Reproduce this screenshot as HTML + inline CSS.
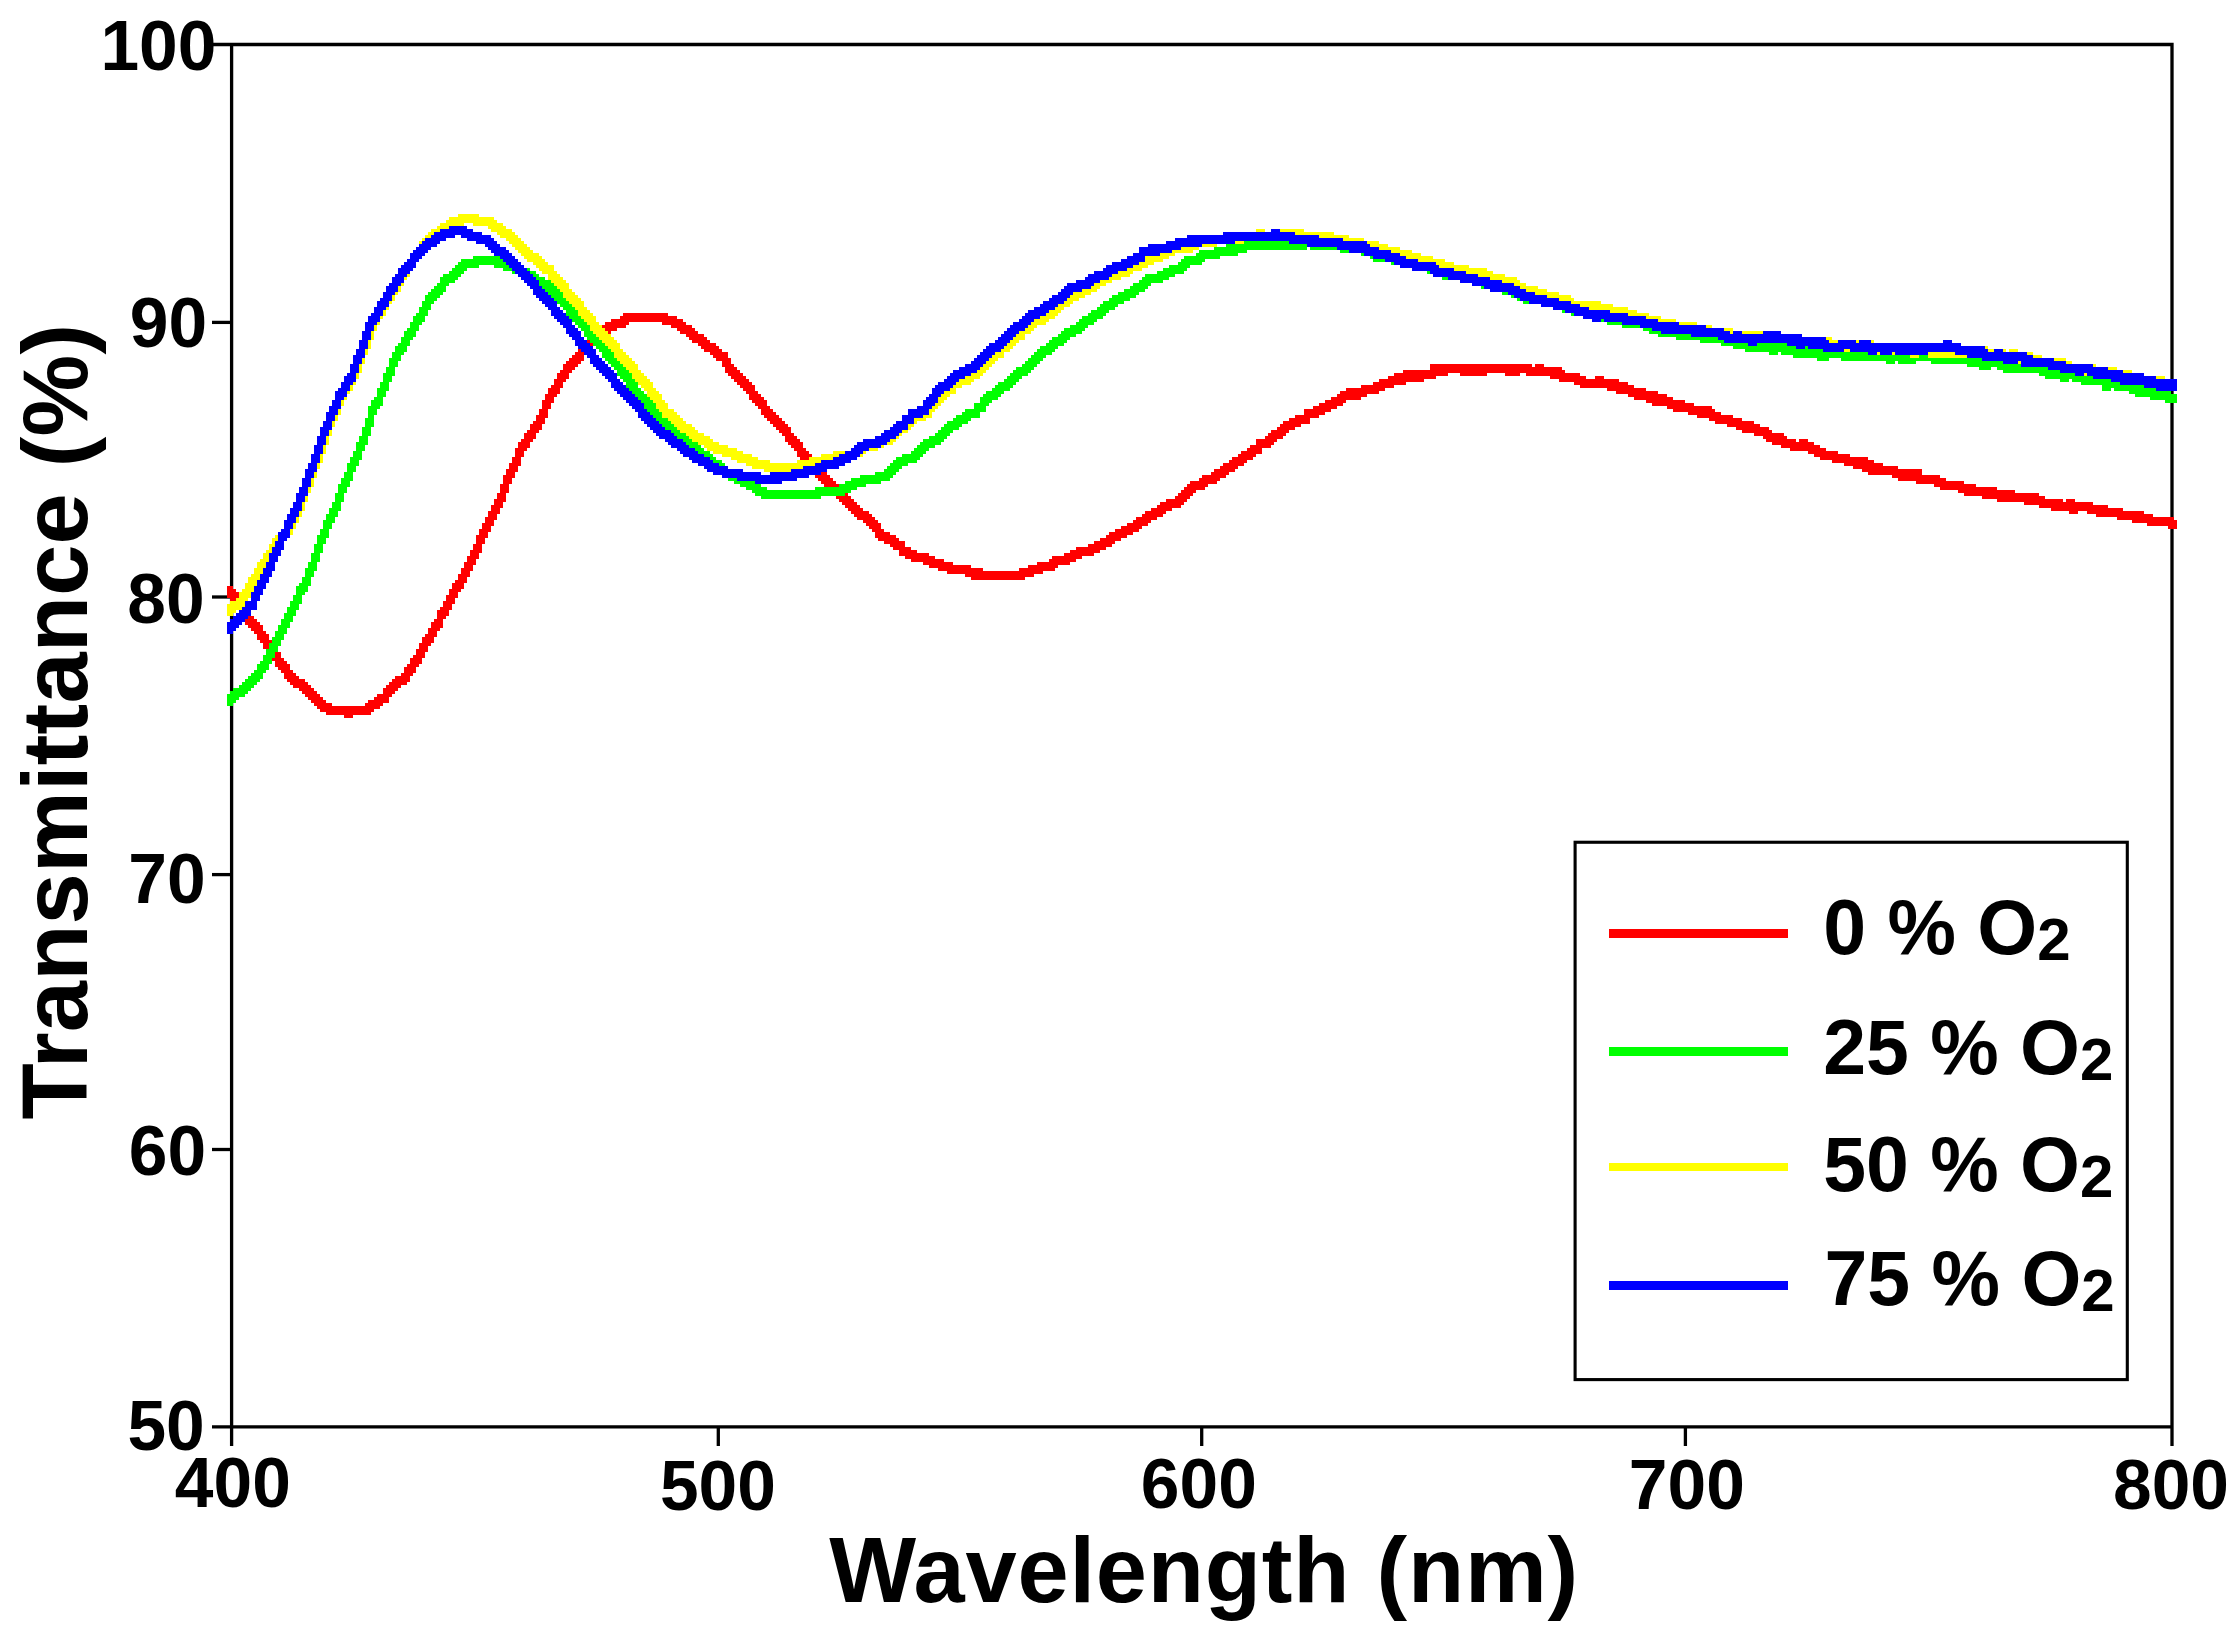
<!DOCTYPE html><html><head><meta charset="utf-8"><title>Transmittance</title>
<style>html,body{margin:0;padding:0;background:#fff}svg{display:block}text{font-family:"Liberation Sans",sans-serif;font-weight:bold;fill:#000}</style></head><body>
<svg width="2238" height="1630" viewBox="0 0 2238 1630">
<rect width="2238" height="1630" fill="#fff"/>
<g stroke="#000" stroke-width="3.3" fill="none">
<path d="M231.6 42.85V1446 M2172 42.85V1446 M212 44.5H2173.65 M212 1426.9H2172"/>
<path d="M212 322.4H231.6"/>
<path d="M212 597H231.6"/>
<path d="M212 874.6H231.6"/>
<path d="M212 1149.5H231.6"/>
<path d="M718.3 1426.9V1446"/>
<path d="M1201.7 1426.9V1446"/>
<path d="M1685.4 1426.9V1446"/>
</g>
<g shape-rendering="crispEdges" stroke="none">
<path fill="#ff0000" d="M227 586.2h3v12h-3zM230 586.2h3v15h-3zM233 589.2h3v15h-3zM236 592.2h3v15h-3zM239 595.2h3v18h-3zM242 598.2h3v21h-3zM245 604.2h3v21h-3zM248 610.2h3v18h-3zM251 616.2h3v15h-3zM254 619.2h3v15h-3zM257 622.2h3v18h-3zM260 625.2h3v18h-3zM263 631.2h3v18h-3zM266 634.2h3v18h-3zM269 640.2h3v18h-3zM272 643.2h3v18h-3zM275 649.2h3v18h-3zM278 652.2h3v18h-3zM281 658.2h3v15h-3zM284 661.2h3v18h-3zM287 664.2h3v18h-3zM290 670.2h3v15h-3zM293 673.2h3v15h-3zM296 676.2h3v12h-3zM299 679.2h3v12h-3zM302 679.2h3v15h-3zM305 682.2h3v15h-3zM308 685.2h3v15h-3zM311 688.2h3v15h-3zM314 691.2h3v15h-3zM317 694.2h3v15h-3zM320 697.2h3v15h-3zM323 700.2h3v12h-3zM326 703.2h3v12h-3zM329 703.2h3v12h-3zM332 706.2h3v9h-3zM335 706.2h3v9h-3zM338 706.2h3v9h-3zM341 706.2h3v9h-3zM344 706.2h3v12h-3zM347 706.2h3v12h-3zM350 706.2h3v12h-3zM353 706.2h3v9h-3zM356 706.2h3v9h-3zM359 706.2h3v9h-3zM362 706.2h3v9h-3zM365 703.2h3v12h-3zM368 700.2h3v15h-3zM371 700.2h3v12h-3zM374 697.2h3v12h-3zM377 694.2h3v15h-3zM380 694.2h3v12h-3zM383 688.2h3v15h-3zM386 685.2h3v18h-3zM389 682.2h3v15h-3zM392 679.2h3v15h-3zM395 676.2h3v15h-3zM398 676.2h3v12h-3zM401 673.2h3v12h-3zM404 667.2h3v18h-3zM407 664.2h3v18h-3zM410 658.2h3v18h-3zM413 655.2h3v18h-3zM416 649.2h3v18h-3zM419 643.2h3v21h-3zM422 637.2h3v21h-3zM425 634.2h3v18h-3zM428 628.2h3v18h-3zM431 622.2h3v21h-3zM434 619.2h3v18h-3zM437 610.2h3v21h-3zM440 607.2h3v21h-3zM443 601.2h3v18h-3zM446 595.2h3v21h-3zM449 589.2h3v21h-3zM452 583.2h3v21h-3zM455 580.2h3v18h-3zM458 574.2h3v18h-3zM461 568.2h3v21h-3zM464 562.2h3v21h-3zM467 556.2h3v21h-3zM470 550.2h3v21h-3zM473 544.2h3v21h-3zM476 535.2h3v24h-3zM479 529.2h3v24h-3zM482 523.2h3v21h-3zM485 517.2h3v21h-3zM488 511.2h3v21h-3zM491 505.2h3v21h-3zM494 499.2h3v21h-3zM497 493.2h3v21h-3zM500 484.2h3v24h-3zM503 475.2h3v27h-3zM506 469.2h3v24h-3zM509 463.2h3v21h-3zM512 457.2h3v21h-3zM515 448.2h3v24h-3zM518 442.2h3v24h-3zM521 439.2h3v18h-3zM524 433.2h3v18h-3zM527 430.2h3v18h-3zM530 424.2h3v18h-3zM533 421.2h3v18h-3zM536 415.2h3v18h-3zM539 409.2h3v21h-3zM542 400.2h3v24h-3zM545 394.2h3v24h-3zM548 388.2h3v21h-3zM551 385.2h3v18h-3zM554 379.2h3v18h-3zM557 373.2h3v21h-3zM560 370.2h3v18h-3zM563 364.2h3v18h-3zM566 361.2h3v18h-3zM569 358.2h3v15h-3zM572 355.2h3v15h-3zM575 352.2h3v15h-3zM578 346.2h3v18h-3zM581 343.2h3v18h-3zM584 340.2h3v15h-3zM587 337.2h3v15h-3zM590 337.2h3v12h-3zM593 334.2h3v12h-3zM596 331.2h3v15h-3zM599 328.2h3v15h-3zM602 325.2h3v15h-3zM605 322.2h3v15h-3zM608 322.2h3v12h-3zM611 319.2h3v12h-3zM614 319.2h3v12h-3zM617 319.2h3v9h-3zM620 316.2h3v12h-3zM623 313.2h3v15h-3zM626 313.2h3v12h-3zM629 313.2h3v9h-3zM632 313.2h3v9h-3zM635 313.2h3v9h-3zM638 313.2h3v9h-3zM641 313.2h3v9h-3zM644 313.2h3v9h-3zM647 313.2h3v9h-3zM650 313.2h3v9h-3zM653 313.2h3v9h-3zM656 313.2h3v9h-3zM659 313.2h3v9h-3zM662 313.2h3v12h-3zM665 313.2h3v12h-3zM668 316.2h3v9h-3zM671 316.2h3v12h-3zM674 316.2h3v12h-3zM677 319.2h3v12h-3zM680 319.2h3v15h-3zM683 322.2h3v12h-3zM686 325.2h3v12h-3zM689 325.2h3v15h-3zM692 328.2h3v15h-3zM695 331.2h3v12h-3zM698 334.2h3v12h-3zM701 334.2h3v15h-3zM704 337.2h3v15h-3zM707 340.2h3v12h-3zM710 343.2h3v12h-3zM713 343.2h3v15h-3zM716 346.2h3v15h-3zM719 349.2h3v12h-3zM722 352.2h3v15h-3zM725 352.2h3v21h-3zM728 358.2h3v18h-3zM731 364.2h3v15h-3zM734 367.2h3v15h-3zM737 370.2h3v15h-3zM740 373.2h3v15h-3zM743 376.2h3v15h-3zM746 379.2h3v15h-3zM749 382.2h3v18h-3zM752 385.2h3v18h-3zM755 391.2h3v15h-3zM758 394.2h3v15h-3zM761 397.2h3v18h-3zM764 400.2h3v18h-3zM767 406.2h3v15h-3zM770 409.2h3v15h-3zM773 412.2h3v15h-3zM776 415.2h3v15h-3zM779 418.2h3v15h-3zM782 421.2h3v15h-3zM785 424.2h3v18h-3zM788 427.2h3v18h-3zM791 433.2h3v15h-3zM794 436.2h3v15h-3zM797 439.2h3v18h-3zM800 442.2h3v18h-3zM803 448.2h3v15h-3zM806 451.2h3v15h-3zM809 454.2h3v18h-3zM812 457.2h3v15h-3zM815 463.2h3v15h-3zM818 463.2h3v18h-3zM821 469.2h3v15h-3zM824 472.2h3v15h-3zM827 475.2h3v15h-3zM830 478.2h3v15h-3zM833 481.2h3v15h-3zM836 484.2h3v15h-3zM839 487.2h3v15h-3zM842 490.2h3v15h-3zM845 493.2h3v15h-3zM848 496.2h3v15h-3zM851 499.2h3v15h-3zM854 502.2h3v15h-3zM857 505.2h3v15h-3zM860 508.2h3v12h-3zM863 511.2h3v12h-3zM866 511.2h3v15h-3zM869 514.2h3v15h-3zM872 517.2h3v15h-3zM875 520.2h3v18h-3zM878 523.2h3v18h-3zM881 529.2h3v12h-3zM884 532.2h3v12h-3zM887 532.2h3v12h-3zM890 535.2h3v12h-3zM893 535.2h3v15h-3zM896 538.2h3v12h-3zM899 541.2h3v15h-3zM902 541.2h3v15h-3zM905 547.2h3v12h-3zM908 547.2h3v12h-3zM911 550.2h3v12h-3zM914 550.2h3v12h-3zM917 553.2h3v9h-3zM920 553.2h3v9h-3zM923 553.2h3v12h-3zM926 553.2h3v12h-3zM929 556.2h3v12h-3zM932 556.2h3v12h-3zM935 559.2h3v9h-3zM938 559.2h3v12h-3zM941 559.2h3v12h-3zM944 562.2h3v9h-3zM947 562.2h3v12h-3zM950 562.2h3v12h-3zM953 565.2h3v9h-3zM956 565.2h3v9h-3zM959 565.2h3v9h-3zM962 565.2h3v9h-3zM965 565.2h3v12h-3zM968 565.2h3v12h-3zM971 568.2h3v12h-3zM974 568.2h3v12h-3zM977 568.2h3v12h-3zM980 568.2h3v12h-3zM983 571.2h3v9h-3zM986 571.2h3v9h-3zM989 571.2h3v9h-3zM992 571.2h3v9h-3zM995 571.2h3v9h-3zM998 571.2h3v9h-3zM1001 571.2h3v9h-3zM1004 571.2h3v9h-3zM1007 571.2h3v9h-3zM1010 571.2h3v9h-3zM1013 571.2h3v9h-3zM1016 571.2h3v9h-3zM1019 568.2h3v12h-3zM1022 568.2h3v12h-3zM1025 568.2h3v9h-3zM1028 565.2h3v12h-3zM1031 565.2h3v12h-3zM1034 565.2h3v9h-3zM1037 562.2h3v12h-3zM1040 562.2h3v12h-3zM1043 562.2h3v9h-3zM1046 562.2h3v9h-3zM1049 559.2h3v12h-3zM1052 556.2h3v15h-3zM1055 556.2h3v12h-3zM1058 556.2h3v9h-3zM1061 556.2h3v9h-3zM1064 553.2h3v12h-3zM1067 553.2h3v12h-3zM1070 550.2h3v12h-3zM1073 550.2h3v12h-3zM1076 547.2h3v12h-3zM1079 547.2h3v12h-3zM1082 547.2h3v9h-3zM1085 547.2h3v9h-3zM1088 544.2h3v12h-3zM1091 544.2h3v12h-3zM1094 541.2h3v12h-3zM1097 541.2h3v12h-3zM1100 538.2h3v12h-3zM1103 538.2h3v12h-3zM1106 535.2h3v12h-3zM1109 532.2h3v15h-3zM1112 532.2h3v12h-3zM1115 529.2h3v12h-3zM1118 529.2h3v12h-3zM1121 526.2h3v12h-3zM1124 526.2h3v12h-3zM1127 523.2h3v12h-3zM1130 523.2h3v12h-3zM1133 520.2h3v12h-3zM1136 517.2h3v15h-3zM1139 517.2h3v12h-3zM1142 514.2h3v12h-3zM1145 511.2h3v15h-3zM1148 511.2h3v12h-3zM1151 508.2h3v12h-3zM1154 508.2h3v12h-3zM1157 505.2h3v12h-3zM1160 502.2h3v15h-3zM1163 502.2h3v12h-3zM1166 499.2h3v12h-3zM1169 499.2h3v12h-3zM1172 499.2h3v9h-3zM1175 496.2h3v12h-3zM1178 493.2h3v15h-3zM1181 490.2h3v15h-3zM1184 487.2h3v15h-3zM1187 484.2h3v15h-3zM1190 481.2h3v15h-3zM1193 481.2h3v12h-3zM1196 481.2h3v9h-3zM1199 478.2h3v12h-3zM1202 475.2h3v15h-3zM1205 475.2h3v12h-3zM1208 475.2h3v9h-3zM1211 472.2h3v12h-3zM1214 469.2h3v15h-3zM1217 469.2h3v12h-3zM1220 466.2h3v12h-3zM1223 463.2h3v15h-3zM1226 463.2h3v12h-3zM1229 460.2h3v12h-3zM1232 457.2h3v15h-3zM1235 457.2h3v12h-3zM1238 454.2h3v12h-3zM1241 451.2h3v15h-3zM1244 451.2h3v12h-3zM1247 448.2h3v12h-3zM1250 445.2h3v15h-3zM1253 445.2h3v12h-3zM1256 439.2h3v15h-3zM1259 439.2h3v15h-3zM1262 439.2h3v9h-3zM1265 436.2h3v12h-3zM1268 433.2h3v15h-3zM1271 430.2h3v15h-3zM1274 430.2h3v12h-3zM1277 427.2h3v12h-3zM1280 424.2h3v15h-3zM1283 421.2h3v15h-3zM1286 421.2h3v12h-3zM1289 418.2h3v12h-3zM1292 418.2h3v12h-3zM1295 415.2h3v12h-3zM1298 415.2h3v12h-3zM1301 415.2h3v9h-3zM1304 409.2h3v15h-3zM1307 409.2h3v15h-3zM1310 409.2h3v9h-3zM1313 406.2h3v12h-3zM1316 406.2h3v12h-3zM1319 403.2h3v12h-3zM1322 403.2h3v12h-3zM1325 400.2h3v12h-3zM1328 400.2h3v12h-3zM1331 397.2h3v12h-3zM1334 397.2h3v12h-3zM1337 394.2h3v12h-3zM1340 391.2h3v15h-3zM1343 391.2h3v12h-3zM1346 388.2h3v12h-3zM1349 388.2h3v12h-3zM1352 388.2h3v12h-3zM1355 388.2h3v12h-3zM1358 388.2h3v12h-3zM1361 385.2h3v12h-3zM1364 385.2h3v12h-3zM1367 385.2h3v9h-3zM1370 385.2h3v9h-3zM1373 382.2h3v12h-3zM1376 382.2h3v12h-3zM1379 379.2h3v12h-3zM1382 379.2h3v12h-3zM1385 379.2h3v9h-3zM1388 376.2h3v12h-3zM1391 376.2h3v12h-3zM1394 373.2h3v12h-3zM1397 373.2h3v12h-3zM1400 373.2h3v12h-3zM1403 370.2h3v15h-3zM1406 370.2h3v12h-3zM1409 370.2h3v12h-3zM1412 370.2h3v12h-3zM1415 370.2h3v12h-3zM1418 370.2h3v12h-3zM1421 370.2h3v12h-3zM1424 370.2h3v9h-3zM1427 370.2h3v9h-3zM1430 364.2h3v15h-3zM1433 364.2h3v15h-3zM1436 364.2h3v12h-3zM1439 364.2h3v12h-3zM1442 364.2h3v12h-3zM1445 364.2h3v12h-3zM1448 364.2h3v9h-3zM1451 364.2h3v9h-3zM1454 364.2h3v9h-3zM1457 364.2h3v9h-3zM1460 364.2h3v12h-3zM1463 364.2h3v12h-3zM1466 364.2h3v12h-3zM1469 364.2h3v12h-3zM1472 364.2h3v12h-3zM1475 364.2h3v12h-3zM1478 364.2h3v12h-3zM1481 364.2h3v12h-3zM1484 364.2h3v12h-3zM1487 364.2h3v9h-3zM1490 364.2h3v9h-3zM1493 364.2h3v9h-3zM1496 364.2h3v9h-3zM1499 364.2h3v9h-3zM1502 364.2h3v9h-3zM1505 364.2h3v12h-3zM1508 364.2h3v12h-3zM1511 364.2h3v12h-3zM1514 364.2h3v12h-3zM1517 364.2h3v12h-3zM1520 364.2h3v9h-3zM1523 364.2h3v9h-3zM1526 364.2h3v12h-3zM1529 364.2h3v12h-3zM1532 367.2h3v9h-3zM1535 364.2h3v12h-3zM1538 364.2h3v12h-3zM1541 364.2h3v12h-3zM1544 367.2h3v9h-3zM1547 367.2h3v9h-3zM1550 367.2h3v12h-3zM1553 367.2h3v12h-3zM1556 367.2h3v12h-3zM1559 367.2h3v15h-3zM1562 370.2h3v12h-3zM1565 373.2h3v9h-3zM1568 373.2h3v9h-3zM1571 373.2h3v9h-3zM1574 373.2h3v12h-3zM1577 373.2h3v12h-3zM1580 376.2h3v12h-3zM1583 376.2h3v12h-3zM1586 379.2h3v9h-3zM1589 379.2h3v9h-3zM1592 379.2h3v9h-3zM1595 376.2h3v12h-3zM1598 376.2h3v12h-3zM1601 376.2h3v12h-3zM1604 379.2h3v9h-3zM1607 379.2h3v12h-3zM1610 379.2h3v12h-3zM1613 379.2h3v12h-3zM1616 379.2h3v15h-3zM1619 382.2h3v12h-3zM1622 382.2h3v12h-3zM1625 382.2h3v12h-3zM1628 385.2h3v12h-3zM1631 385.2h3v12h-3zM1634 388.2h3v12h-3zM1637 388.2h3v12h-3zM1640 388.2h3v12h-3zM1643 388.2h3v12h-3zM1646 391.2h3v12h-3zM1649 391.2h3v12h-3zM1652 391.2h3v15h-3zM1655 391.2h3v15h-3zM1658 394.2h3v12h-3zM1661 394.2h3v12h-3zM1664 394.2h3v12h-3zM1667 397.2h3v12h-3zM1670 397.2h3v12h-3zM1673 400.2h3v12h-3zM1676 400.2h3v12h-3zM1679 400.2h3v12h-3zM1682 400.2h3v12h-3zM1685 403.2h3v9h-3zM1688 403.2h3v12h-3zM1691 403.2h3v12h-3zM1694 406.2h3v9h-3zM1697 406.2h3v12h-3zM1700 406.2h3v12h-3zM1703 406.2h3v12h-3zM1706 406.2h3v12h-3zM1709 406.2h3v15h-3zM1712 409.2h3v12h-3zM1715 412.2h3v12h-3zM1718 412.2h3v12h-3zM1721 415.2h3v9h-3zM1724 415.2h3v9h-3zM1727 415.2h3v12h-3zM1730 415.2h3v12h-3zM1733 418.2h3v9h-3zM1736 418.2h3v12h-3zM1739 418.2h3v12h-3zM1742 421.2h3v12h-3zM1745 421.2h3v12h-3zM1748 421.2h3v12h-3zM1751 421.2h3v12h-3zM1754 424.2h3v12h-3zM1757 424.2h3v12h-3zM1760 427.2h3v9h-3zM1763 427.2h3v12h-3zM1766 427.2h3v15h-3zM1769 430.2h3v12h-3zM1772 433.2h3v12h-3zM1775 433.2h3v12h-3zM1778 433.2h3v12h-3zM1781 433.2h3v15h-3zM1784 436.2h3v12h-3zM1787 439.2h3v9h-3zM1790 439.2h3v12h-3zM1793 439.2h3v12h-3zM1796 442.2h3v9h-3zM1799 439.2h3v12h-3zM1802 439.2h3v12h-3zM1805 439.2h3v12h-3zM1808 442.2h3v12h-3zM1811 442.2h3v12h-3zM1814 445.2h3v12h-3zM1817 445.2h3v12h-3zM1820 448.2h3v12h-3zM1823 448.2h3v12h-3zM1826 451.2h3v9h-3zM1829 451.2h3v9h-3zM1832 451.2h3v12h-3zM1835 451.2h3v12h-3zM1838 454.2h3v9h-3zM1841 454.2h3v9h-3zM1844 454.2h3v12h-3zM1847 454.2h3v12h-3zM1850 457.2h3v9h-3zM1853 457.2h3v12h-3zM1856 457.2h3v12h-3zM1859 457.2h3v12h-3zM1862 457.2h3v15h-3zM1865 457.2h3v15h-3zM1868 460.2h3v15h-3zM1871 460.2h3v15h-3zM1874 463.2h3v12h-3zM1877 463.2h3v12h-3zM1880 463.2h3v12h-3zM1883 466.2h3v9h-3zM1886 466.2h3v9h-3zM1889 466.2h3v9h-3zM1892 466.2h3v12h-3zM1895 466.2h3v12h-3zM1898 469.2h3v12h-3zM1901 469.2h3v12h-3zM1904 469.2h3v12h-3zM1907 469.2h3v12h-3zM1910 469.2h3v12h-3zM1913 469.2h3v12h-3zM1916 469.2h3v15h-3zM1919 469.2h3v15h-3zM1922 475.2h3v9h-3zM1925 475.2h3v9h-3zM1928 475.2h3v9h-3zM1931 475.2h3v9h-3zM1934 475.2h3v12h-3zM1937 475.2h3v12h-3zM1940 478.2h3v12h-3zM1943 478.2h3v12h-3zM1946 481.2h3v9h-3zM1949 481.2h3v9h-3zM1952 481.2h3v9h-3zM1955 481.2h3v9h-3zM1958 481.2h3v12h-3zM1961 481.2h3v12h-3zM1964 484.2h3v12h-3zM1967 484.2h3v12h-3zM1970 484.2h3v12h-3zM1973 484.2h3v12h-3zM1976 487.2h3v9h-3zM1979 487.2h3v9h-3zM1982 487.2h3v12h-3zM1985 487.2h3v12h-3zM1988 487.2h3v12h-3zM1991 487.2h3v12h-3zM1994 487.2h3v12h-3zM1997 490.2h3v12h-3zM2000 490.2h3v12h-3zM2003 490.2h3v12h-3zM2006 490.2h3v12h-3zM2009 490.2h3v12h-3zM2012 490.2h3v12h-3zM2015 493.2h3v9h-3zM2018 493.2h3v9h-3zM2021 493.2h3v9h-3zM2024 493.2h3v12h-3zM2027 493.2h3v12h-3zM2030 493.2h3v12h-3zM2033 493.2h3v12h-3zM2036 493.2h3v12h-3zM2039 496.2h3v12h-3zM2042 496.2h3v12h-3zM2045 499.2h3v9h-3zM2048 499.2h3v9h-3zM2051 499.2h3v12h-3zM2054 499.2h3v12h-3zM2057 499.2h3v12h-3zM2060 499.2h3v12h-3zM2063 502.2h3v9h-3zM2066 499.2h3v12h-3zM2069 499.2h3v15h-3zM2072 499.2h3v15h-3zM2075 502.2h3v12h-3zM2078 502.2h3v9h-3zM2081 502.2h3v9h-3zM2084 502.2h3v9h-3zM2087 502.2h3v12h-3zM2090 502.2h3v12h-3zM2093 505.2h3v9h-3zM2096 505.2h3v12h-3zM2099 505.2h3v12h-3zM2102 505.2h3v12h-3zM2105 505.2h3v12h-3zM2108 508.2h3v9h-3zM2111 508.2h3v9h-3zM2114 508.2h3v9h-3zM2117 508.2h3v12h-3zM2120 508.2h3v12h-3zM2123 511.2h3v9h-3zM2126 511.2h3v9h-3zM2129 511.2h3v9h-3zM2132 511.2h3v12h-3zM2135 511.2h3v12h-3zM2138 511.2h3v12h-3zM2141 511.2h3v12h-3zM2144 514.2h3v9h-3zM2147 514.2h3v12h-3zM2150 514.2h3v12h-3zM2153 517.2h3v9h-3zM2156 517.2h3v9h-3zM2159 517.2h3v9h-3zM2162 517.2h3v9h-3zM2165 517.2h3v9h-3zM2168 517.2h3v12h-3zM2171 517.2h3v12h-3zM2174 520.2h3v9h-3z"/>
<path fill="#00ff00" d="M227 694.2h3v12h-3zM230 691.2h3v15h-3zM233 688.2h3v15h-3zM236 688.2h3v12h-3zM239 685.2h3v12h-3zM242 682.2h3v15h-3zM245 679.2h3v15h-3zM248 676.2h3v15h-3zM251 673.2h3v15h-3zM254 670.2h3v15h-3zM257 664.2h3v18h-3zM260 661.2h3v18h-3zM263 655.2h3v18h-3zM266 649.2h3v21h-3zM269 643.2h3v21h-3zM272 637.2h3v21h-3zM275 631.2h3v21h-3zM278 625.2h3v21h-3zM281 619.2h3v21h-3zM284 613.2h3v21h-3zM287 607.2h3v21h-3zM290 601.2h3v21h-3zM293 595.2h3v21h-3zM296 586.2h3v24h-3zM299 583.2h3v21h-3zM302 577.2h3v18h-3zM305 568.2h3v24h-3zM308 562.2h3v24h-3zM311 553.2h3v24h-3zM314 544.2h3v27h-3zM317 535.2h3v27h-3zM320 529.2h3v24h-3zM323 520.2h3v24h-3zM326 514.2h3v24h-3zM329 508.2h3v21h-3zM332 502.2h3v21h-3zM335 493.2h3v24h-3zM338 484.2h3v27h-3zM341 478.2h3v24h-3zM344 472.2h3v21h-3zM347 463.2h3v24h-3zM350 457.2h3v24h-3zM353 451.2h3v21h-3zM356 442.2h3v24h-3zM359 436.2h3v24h-3zM362 427.2h3v24h-3zM365 418.2h3v27h-3zM368 406.2h3v30h-3zM371 400.2h3v27h-3zM374 397.2h3v18h-3zM377 388.2h3v21h-3zM380 382.2h3v24h-3zM383 373.2h3v24h-3zM386 367.2h3v24h-3zM389 358.2h3v24h-3zM392 352.2h3v24h-3zM395 346.2h3v21h-3zM398 343.2h3v18h-3zM401 337.2h3v18h-3zM404 331.2h3v21h-3zM407 328.2h3v18h-3zM410 322.2h3v18h-3zM413 316.2h3v21h-3zM416 313.2h3v18h-3zM419 307.2h3v18h-3zM422 301.2h3v21h-3zM425 295.2h3v21h-3zM428 292.2h3v18h-3zM431 289.2h3v15h-3zM434 286.2h3v15h-3zM437 283.2h3v15h-3zM440 277.2h3v18h-3zM443 274.2h3v18h-3zM446 274.2h3v12h-3zM449 271.2h3v12h-3zM452 268.2h3v15h-3zM455 265.2h3v15h-3zM458 262.2h3v15h-3zM461 259.2h3v15h-3zM464 259.2h3v12h-3zM467 259.2h3v9h-3zM470 259.2h3v9h-3zM473 256.2h3v12h-3zM476 256.2h3v12h-3zM479 256.2h3v9h-3zM482 256.2h3v9h-3zM485 256.2h3v9h-3zM488 256.2h3v9h-3zM491 256.2h3v9h-3zM494 256.2h3v12h-3zM497 256.2h3v12h-3zM500 259.2h3v9h-3zM503 259.2h3v12h-3zM506 259.2h3v12h-3zM509 262.2h3v9h-3zM512 262.2h3v12h-3zM515 262.2h3v12h-3zM518 265.2h3v12h-3zM521 265.2h3v12h-3zM524 268.2h3v12h-3zM527 268.2h3v12h-3zM530 271.2h3v12h-3zM533 271.2h3v15h-3zM536 274.2h3v12h-3zM539 277.2h3v12h-3zM542 277.2h3v12h-3zM545 280.2h3v12h-3zM548 280.2h3v15h-3zM551 283.2h3v15h-3zM554 286.2h3v15h-3zM557 289.2h3v15h-3zM560 292.2h3v15h-3zM563 295.2h3v15h-3zM566 298.2h3v18h-3zM569 301.2h3v18h-3zM572 307.2h3v15h-3zM575 310.2h3v15h-3zM578 313.2h3v15h-3zM581 316.2h3v15h-3zM584 319.2h3v18h-3zM587 322.2h3v18h-3zM590 328.2h3v15h-3zM593 331.2h3v15h-3zM596 334.2h3v15h-3zM599 337.2h3v15h-3zM602 340.2h3v18h-3zM605 343.2h3v18h-3zM608 349.2h3v15h-3zM611 352.2h3v15h-3zM614 355.2h3v15h-3zM617 358.2h3v18h-3zM620 361.2h3v18h-3zM623 367.2h3v15h-3zM626 370.2h3v18h-3zM629 373.2h3v18h-3zM632 379.2h3v18h-3zM635 382.2h3v18h-3zM638 388.2h3v15h-3zM641 391.2h3v15h-3zM644 394.2h3v15h-3zM647 397.2h3v15h-3zM650 400.2h3v15h-3zM653 403.2h3v15h-3zM656 406.2h3v15h-3zM659 409.2h3v15h-3zM662 412.2h3v15h-3zM665 415.2h3v15h-3zM668 418.2h3v12h-3zM671 421.2h3v12h-3zM674 421.2h3v15h-3zM677 424.2h3v15h-3zM680 427.2h3v15h-3zM683 430.2h3v18h-3zM686 433.2h3v15h-3zM689 439.2h3v12h-3zM692 439.2h3v15h-3zM695 442.2h3v15h-3zM698 445.2h3v15h-3zM701 448.2h3v12h-3zM704 451.2h3v12h-3zM707 451.2h3v15h-3zM710 454.2h3v15h-3zM713 457.2h3v12h-3zM716 460.2h3v12h-3zM719 460.2h3v15h-3zM722 463.2h3v15h-3zM725 466.2h3v12h-3zM728 469.2h3v12h-3zM731 469.2h3v12h-3zM734 472.2h3v12h-3zM737 472.2h3v12h-3zM740 475.2h3v12h-3zM743 475.2h3v12h-3zM746 478.2h3v12h-3zM749 478.2h3v12h-3zM752 481.2h3v12h-3zM755 481.2h3v15h-3zM758 484.2h3v12h-3zM761 487.2h3v12h-3zM764 487.2h3v12h-3zM767 490.2h3v9h-3zM770 490.2h3v9h-3zM773 490.2h3v9h-3zM776 490.2h3v9h-3zM779 490.2h3v9h-3zM782 490.2h3v9h-3zM785 490.2h3v9h-3zM788 490.2h3v9h-3zM791 490.2h3v9h-3zM794 490.2h3v9h-3zM797 490.2h3v9h-3zM800 490.2h3v9h-3zM803 490.2h3v9h-3zM806 490.2h3v9h-3zM809 490.2h3v9h-3zM812 490.2h3v9h-3zM815 487.2h3v12h-3zM818 487.2h3v12h-3zM821 487.2h3v9h-3zM824 487.2h3v9h-3zM827 487.2h3v9h-3zM830 487.2h3v9h-3zM833 487.2h3v9h-3zM836 487.2h3v9h-3zM839 484.2h3v12h-3zM842 484.2h3v12h-3zM845 481.2h3v12h-3zM848 481.2h3v12h-3zM851 478.2h3v12h-3zM854 478.2h3v12h-3zM857 478.2h3v9h-3zM860 475.2h3v12h-3zM863 475.2h3v12h-3zM866 475.2h3v9h-3zM869 475.2h3v9h-3zM872 475.2h3v9h-3zM875 472.2h3v12h-3zM878 472.2h3v12h-3zM881 472.2h3v9h-3zM884 469.2h3v12h-3zM887 466.2h3v15h-3zM890 463.2h3v15h-3zM893 460.2h3v15h-3zM896 457.2h3v15h-3zM899 457.2h3v12h-3zM902 454.2h3v12h-3zM905 454.2h3v12h-3zM908 454.2h3v9h-3zM911 451.2h3v12h-3zM914 448.2h3v15h-3zM917 445.2h3v15h-3zM920 442.2h3v15h-3zM923 439.2h3v15h-3zM926 439.2h3v12h-3zM929 436.2h3v12h-3zM932 436.2h3v12h-3zM935 433.2h3v12h-3zM938 430.2h3v15h-3zM941 427.2h3v15h-3zM944 424.2h3v15h-3zM947 421.2h3v15h-3zM950 421.2h3v12h-3zM953 418.2h3v12h-3zM956 415.2h3v15h-3zM959 415.2h3v12h-3zM962 412.2h3v12h-3zM965 409.2h3v15h-3zM968 409.2h3v12h-3zM971 409.2h3v9h-3zM974 403.2h3v15h-3zM977 403.2h3v15h-3zM980 397.2h3v15h-3zM983 394.2h3v18h-3zM986 391.2h3v15h-3zM989 391.2h3v12h-3zM992 388.2h3v12h-3zM995 385.2h3v15h-3zM998 382.2h3v15h-3zM1001 382.2h3v12h-3zM1004 379.2h3v12h-3zM1007 376.2h3v15h-3zM1010 373.2h3v15h-3zM1013 370.2h3v15h-3zM1016 367.2h3v15h-3zM1019 367.2h3v12h-3zM1022 364.2h3v12h-3zM1025 361.2h3v15h-3zM1028 358.2h3v15h-3zM1031 355.2h3v15h-3zM1034 352.2h3v15h-3zM1037 349.2h3v15h-3zM1040 346.2h3v15h-3zM1043 346.2h3v12h-3zM1046 343.2h3v12h-3zM1049 340.2h3v15h-3zM1052 337.2h3v15h-3zM1055 337.2h3v12h-3zM1058 334.2h3v12h-3zM1061 331.2h3v15h-3zM1064 328.2h3v15h-3zM1067 328.2h3v12h-3zM1070 325.2h3v12h-3zM1073 325.2h3v12h-3zM1076 322.2h3v12h-3zM1079 319.2h3v15h-3zM1082 316.2h3v15h-3zM1085 316.2h3v12h-3zM1088 313.2h3v12h-3zM1091 310.2h3v15h-3zM1094 310.2h3v12h-3zM1097 307.2h3v12h-3zM1100 304.2h3v15h-3zM1103 301.2h3v15h-3zM1106 301.2h3v12h-3zM1109 298.2h3v12h-3zM1112 295.2h3v15h-3zM1115 295.2h3v12h-3zM1118 292.2h3v12h-3zM1121 292.2h3v12h-3zM1124 289.2h3v12h-3zM1127 289.2h3v12h-3zM1130 286.2h3v12h-3zM1133 283.2h3v15h-3zM1136 283.2h3v12h-3zM1139 280.2h3v12h-3zM1142 277.2h3v15h-3zM1145 274.2h3v15h-3zM1148 274.2h3v12h-3zM1151 274.2h3v9h-3zM1154 274.2h3v9h-3zM1157 271.2h3v12h-3zM1160 271.2h3v12h-3zM1163 268.2h3v12h-3zM1166 268.2h3v12h-3zM1169 265.2h3v12h-3zM1172 265.2h3v12h-3zM1175 265.2h3v9h-3zM1178 262.2h3v12h-3zM1181 259.2h3v15h-3zM1184 256.2h3v15h-3zM1187 256.2h3v12h-3zM1190 256.2h3v9h-3zM1193 256.2h3v9h-3zM1196 253.2h3v12h-3zM1199 250.2h3v15h-3zM1202 250.2h3v12h-3zM1205 250.2h3v9h-3zM1208 250.2h3v9h-3zM1211 250.2h3v9h-3zM1214 247.2h3v12h-3zM1217 247.2h3v12h-3zM1220 247.2h3v9h-3zM1223 247.2h3v9h-3zM1226 244.2h3v12h-3zM1229 244.2h3v12h-3zM1232 244.2h3v12h-3zM1235 244.2h3v12h-3zM1238 244.2h3v9h-3zM1241 241.2h3v12h-3zM1244 241.2h3v12h-3zM1247 241.2h3v9h-3zM1250 241.2h3v9h-3zM1253 241.2h3v9h-3zM1256 241.2h3v9h-3zM1259 241.2h3v9h-3zM1262 241.2h3v9h-3zM1265 241.2h3v9h-3zM1268 241.2h3v9h-3zM1271 241.2h3v9h-3zM1274 241.2h3v9h-3zM1277 238.2h3v12h-3zM1280 238.2h3v12h-3zM1283 238.2h3v12h-3zM1286 241.2h3v9h-3zM1289 241.2h3v9h-3zM1292 238.2h3v12h-3zM1295 238.2h3v12h-3zM1298 238.2h3v12h-3zM1301 238.2h3v12h-3zM1304 238.2h3v12h-3zM1307 238.2h3v9h-3zM1310 238.2h3v12h-3zM1313 238.2h3v12h-3zM1316 238.2h3v12h-3zM1319 238.2h3v12h-3zM1322 238.2h3v12h-3zM1325 238.2h3v12h-3zM1328 238.2h3v12h-3zM1331 241.2h3v9h-3zM1334 241.2h3v9h-3zM1337 241.2h3v9h-3zM1340 241.2h3v12h-3zM1343 241.2h3v12h-3zM1346 244.2h3v9h-3zM1349 244.2h3v9h-3zM1352 244.2h3v9h-3zM1355 244.2h3v9h-3zM1358 244.2h3v9h-3zM1361 244.2h3v12h-3zM1364 244.2h3v12h-3zM1367 247.2h3v9h-3zM1370 247.2h3v12h-3zM1373 247.2h3v15h-3zM1376 250.2h3v12h-3zM1379 250.2h3v12h-3zM1382 250.2h3v12h-3zM1385 250.2h3v12h-3zM1388 253.2h3v9h-3zM1391 253.2h3v12h-3zM1394 253.2h3v12h-3zM1397 256.2h3v9h-3zM1400 256.2h3v9h-3zM1403 256.2h3v9h-3zM1406 256.2h3v12h-3zM1409 256.2h3v12h-3zM1412 259.2h3v12h-3zM1415 259.2h3v12h-3zM1418 259.2h3v12h-3zM1421 259.2h3v12h-3zM1424 262.2h3v9h-3zM1427 262.2h3v12h-3zM1430 262.2h3v12h-3zM1433 265.2h3v9h-3zM1436 265.2h3v9h-3zM1439 265.2h3v12h-3zM1442 265.2h3v15h-3zM1445 268.2h3v12h-3zM1448 271.2h3v9h-3zM1451 271.2h3v9h-3zM1454 271.2h3v9h-3zM1457 271.2h3v9h-3zM1460 271.2h3v12h-3zM1463 271.2h3v12h-3zM1466 274.2h3v9h-3zM1469 274.2h3v9h-3zM1472 274.2h3v9h-3zM1475 274.2h3v12h-3zM1478 274.2h3v12h-3zM1481 277.2h3v12h-3zM1484 277.2h3v12h-3zM1487 280.2h3v9h-3zM1490 280.2h3v9h-3zM1493 280.2h3v12h-3zM1496 280.2h3v12h-3zM1499 280.2h3v12h-3zM1502 280.2h3v15h-3zM1505 280.2h3v15h-3zM1508 286.2h3v9h-3zM1511 286.2h3v12h-3zM1514 286.2h3v12h-3zM1517 289.2h3v12h-3zM1520 289.2h3v12h-3zM1523 289.2h3v15h-3zM1526 289.2h3v15h-3zM1529 292.2h3v12h-3zM1532 292.2h3v12h-3zM1535 295.2h3v9h-3zM1538 295.2h3v9h-3zM1541 295.2h3v9h-3zM1544 295.2h3v12h-3zM1547 295.2h3v12h-3zM1550 298.2h3v9h-3zM1553 298.2h3v12h-3zM1556 298.2h3v12h-3zM1559 301.2h3v9h-3zM1562 301.2h3v12h-3zM1565 301.2h3v12h-3zM1568 304.2h3v9h-3zM1571 304.2h3v12h-3zM1574 304.2h3v12h-3zM1577 304.2h3v12h-3zM1580 304.2h3v12h-3zM1583 307.2h3v12h-3zM1586 307.2h3v12h-3zM1589 310.2h3v9h-3zM1592 310.2h3v9h-3zM1595 310.2h3v9h-3zM1598 310.2h3v9h-3zM1601 310.2h3v12h-3zM1604 310.2h3v12h-3zM1607 313.2h3v12h-3zM1610 313.2h3v12h-3zM1613 313.2h3v12h-3zM1616 313.2h3v12h-3zM1619 313.2h3v12h-3zM1622 313.2h3v15h-3zM1625 316.2h3v12h-3zM1628 316.2h3v12h-3zM1631 316.2h3v12h-3zM1634 316.2h3v12h-3zM1637 319.2h3v9h-3zM1640 319.2h3v9h-3zM1643 319.2h3v12h-3zM1646 319.2h3v12h-3zM1649 322.2h3v12h-3zM1652 322.2h3v12h-3zM1655 322.2h3v12h-3zM1658 322.2h3v15h-3zM1661 322.2h3v15h-3zM1664 325.2h3v12h-3zM1667 325.2h3v12h-3zM1670 325.2h3v12h-3zM1673 328.2h3v9h-3zM1676 328.2h3v12h-3zM1679 328.2h3v12h-3zM1682 331.2h3v9h-3zM1685 331.2h3v9h-3zM1688 331.2h3v9h-3zM1691 331.2h3v9h-3zM1694 331.2h3v9h-3zM1697 331.2h3v9h-3zM1700 331.2h3v12h-3zM1703 331.2h3v12h-3zM1706 331.2h3v12h-3zM1709 331.2h3v12h-3zM1712 331.2h3v12h-3zM1715 331.2h3v12h-3zM1718 331.2h3v12h-3zM1721 334.2h3v12h-3zM1724 334.2h3v12h-3zM1727 337.2h3v9h-3zM1730 337.2h3v9h-3zM1733 337.2h3v12h-3zM1736 337.2h3v12h-3zM1739 340.2h3v9h-3zM1742 340.2h3v9h-3zM1745 340.2h3v12h-3zM1748 340.2h3v12h-3zM1751 340.2h3v12h-3zM1754 340.2h3v12h-3zM1757 343.2h3v9h-3zM1760 340.2h3v12h-3zM1763 340.2h3v12h-3zM1766 340.2h3v12h-3zM1769 343.2h3v12h-3zM1772 343.2h3v12h-3zM1775 343.2h3v12h-3zM1778 343.2h3v9h-3zM1781 343.2h3v12h-3zM1784 343.2h3v12h-3zM1787 346.2h3v9h-3zM1790 346.2h3v9h-3zM1793 346.2h3v12h-3zM1796 346.2h3v12h-3zM1799 346.2h3v12h-3zM1802 346.2h3v12h-3zM1805 346.2h3v12h-3zM1808 346.2h3v12h-3zM1811 346.2h3v12h-3zM1814 346.2h3v12h-3zM1817 346.2h3v15h-3zM1820 349.2h3v12h-3zM1823 349.2h3v12h-3zM1826 349.2h3v12h-3zM1829 349.2h3v9h-3zM1832 349.2h3v9h-3zM1835 349.2h3v9h-3zM1838 349.2h3v9h-3zM1841 349.2h3v12h-3zM1844 349.2h3v12h-3zM1847 349.2h3v12h-3zM1850 349.2h3v12h-3zM1853 349.2h3v12h-3zM1856 352.2h3v9h-3zM1859 352.2h3v9h-3zM1862 352.2h3v9h-3zM1865 352.2h3v9h-3zM1868 352.2h3v9h-3zM1871 352.2h3v9h-3zM1874 352.2h3v9h-3zM1877 352.2h3v9h-3zM1880 352.2h3v9h-3zM1883 352.2h3v9h-3zM1886 352.2h3v12h-3zM1889 352.2h3v12h-3zM1892 352.2h3v12h-3zM1895 352.2h3v9h-3zM1898 352.2h3v12h-3zM1901 352.2h3v12h-3zM1904 352.2h3v12h-3zM1907 352.2h3v12h-3zM1910 352.2h3v12h-3zM1913 352.2h3v12h-3zM1916 352.2h3v9h-3zM1919 352.2h3v9h-3zM1922 352.2h3v9h-3zM1925 352.2h3v9h-3zM1928 352.2h3v9h-3zM1931 352.2h3v12h-3zM1934 352.2h3v12h-3zM1937 352.2h3v12h-3zM1940 352.2h3v12h-3zM1943 352.2h3v12h-3zM1946 352.2h3v12h-3zM1949 352.2h3v12h-3zM1952 352.2h3v12h-3zM1955 352.2h3v12h-3zM1958 355.2h3v9h-3zM1961 355.2h3v9h-3zM1964 355.2h3v9h-3zM1967 355.2h3v12h-3zM1970 355.2h3v12h-3zM1973 355.2h3v12h-3zM1976 355.2h3v12h-3zM1979 355.2h3v15h-3zM1982 358.2h3v12h-3zM1985 358.2h3v12h-3zM1988 358.2h3v12h-3zM1991 358.2h3v9h-3zM1994 358.2h3v9h-3zM1997 358.2h3v12h-3zM2000 358.2h3v12h-3zM2003 361.2h3v12h-3zM2006 361.2h3v12h-3zM2009 361.2h3v12h-3zM2012 361.2h3v12h-3zM2015 361.2h3v12h-3zM2018 361.2h3v12h-3zM2021 361.2h3v12h-3zM2024 361.2h3v12h-3zM2027 361.2h3v12h-3zM2030 364.2h3v9h-3zM2033 364.2h3v9h-3zM2036 364.2h3v9h-3zM2039 364.2h3v12h-3zM2042 364.2h3v12h-3zM2045 364.2h3v15h-3zM2048 364.2h3v15h-3zM2051 367.2h3v12h-3zM2054 367.2h3v12h-3zM2057 367.2h3v12h-3zM2060 370.2h3v12h-3zM2063 370.2h3v12h-3zM2066 370.2h3v12h-3zM2069 370.2h3v9h-3zM2072 370.2h3v12h-3zM2075 370.2h3v12h-3zM2078 373.2h3v9h-3zM2081 373.2h3v12h-3zM2084 373.2h3v12h-3zM2087 376.2h3v9h-3zM2090 373.2h3v12h-3zM2093 373.2h3v12h-3zM2096 373.2h3v12h-3zM2099 376.2h3v9h-3zM2102 376.2h3v15h-3zM2105 376.2h3v15h-3zM2108 379.2h3v12h-3zM2111 379.2h3v9h-3zM2114 379.2h3v12h-3zM2117 379.2h3v12h-3zM2120 379.2h3v12h-3zM2123 379.2h3v12h-3zM2126 382.2h3v9h-3zM2129 382.2h3v12h-3zM2132 382.2h3v12h-3zM2135 385.2h3v12h-3zM2138 385.2h3v12h-3zM2141 385.2h3v12h-3zM2144 385.2h3v12h-3zM2147 385.2h3v12h-3zM2150 388.2h3v12h-3zM2153 388.2h3v12h-3zM2156 391.2h3v9h-3zM2159 391.2h3v9h-3zM2162 391.2h3v9h-3zM2165 391.2h3v12h-3zM2168 391.2h3v12h-3zM2171 394.2h3v9h-3zM2174 394.2h3v9h-3z"/>
<path fill="#ffff00" d="M227 604.2h3v12h-3zM230 601.2h3v15h-3zM233 601.2h3v12h-3zM236 598.2h3v12h-3zM239 592.2h3v18h-3zM242 589.2h3v18h-3zM245 583.2h3v18h-3zM248 577.2h3v21h-3zM251 574.2h3v18h-3zM254 568.2h3v18h-3zM257 562.2h3v21h-3zM260 559.2h3v18h-3zM263 553.2h3v18h-3zM266 550.2h3v18h-3zM269 544.2h3v18h-3zM272 538.2h3v21h-3zM275 535.2h3v18h-3zM278 532.2h3v15h-3zM281 529.2h3v15h-3zM284 526.2h3v15h-3zM287 520.2h3v18h-3zM290 514.2h3v21h-3zM293 508.2h3v21h-3zM296 502.2h3v21h-3zM299 493.2h3v24h-3zM302 484.2h3v27h-3zM305 478.2h3v24h-3zM308 469.2h3v24h-3zM311 460.2h3v27h-3zM314 454.2h3v24h-3zM317 445.2h3v24h-3zM320 436.2h3v27h-3zM323 427.2h3v27h-3zM326 418.2h3v27h-3zM329 412.2h3v24h-3zM332 406.2h3v21h-3zM335 397.2h3v24h-3zM338 391.2h3v24h-3zM341 385.2h3v21h-3zM344 382.2h3v18h-3zM347 376.2h3v18h-3zM350 370.2h3v21h-3zM353 364.2h3v21h-3zM356 355.2h3v24h-3zM359 346.2h3v27h-3zM362 340.2h3v24h-3zM365 331.2h3v24h-3zM368 322.2h3v27h-3zM371 316.2h3v24h-3zM374 310.2h3v21h-3zM377 307.2h3v18h-3zM380 301.2h3v18h-3zM383 295.2h3v21h-3zM386 292.2h3v18h-3zM389 286.2h3v18h-3zM392 283.2h3v18h-3zM395 277.2h3v18h-3zM398 271.2h3v21h-3zM401 268.2h3v18h-3zM404 262.2h3v18h-3zM407 259.2h3v18h-3zM410 253.2h3v18h-3zM413 250.2h3v18h-3zM416 247.2h3v15h-3zM419 241.2h3v18h-3zM422 238.2h3v18h-3zM425 235.2h3v15h-3zM428 232.2h3v15h-3zM431 229.2h3v15h-3zM434 229.2h3v12h-3zM437 226.2h3v12h-3zM440 223.2h3v15h-3zM443 223.2h3v12h-3zM446 220.2h3v12h-3zM449 217.2h3v15h-3zM452 217.2h3v12h-3zM455 217.2h3v9h-3zM458 214.2h3v12h-3zM461 214.2h3v12h-3zM464 214.2h3v9h-3zM467 214.2h3v9h-3zM470 214.2h3v9h-3zM473 214.2h3v12h-3zM476 214.2h3v12h-3zM479 217.2h3v9h-3zM482 217.2h3v9h-3zM485 217.2h3v9h-3zM488 217.2h3v12h-3zM491 217.2h3v15h-3zM494 220.2h3v12h-3zM497 223.2h3v12h-3zM500 223.2h3v15h-3zM503 226.2h3v12h-3zM506 229.2h3v12h-3zM509 229.2h3v15h-3zM512 232.2h3v15h-3zM515 235.2h3v15h-3zM518 238.2h3v15h-3zM521 241.2h3v15h-3zM524 244.2h3v15h-3zM527 247.2h3v15h-3zM530 250.2h3v12h-3zM533 253.2h3v12h-3zM536 253.2h3v15h-3zM539 256.2h3v15h-3zM542 259.2h3v15h-3zM545 262.2h3v12h-3zM548 265.2h3v15h-3zM551 265.2h3v18h-3zM554 271.2h3v15h-3zM557 274.2h3v15h-3zM560 277.2h3v15h-3zM563 280.2h3v18h-3zM566 283.2h3v18h-3zM569 289.2h3v15h-3zM572 292.2h3v15h-3zM575 295.2h3v15h-3zM578 298.2h3v18h-3zM581 301.2h3v18h-3zM584 307.2h3v15h-3zM587 310.2h3v15h-3zM590 313.2h3v18h-3zM593 316.2h3v18h-3zM596 322.2h3v15h-3zM599 325.2h3v15h-3zM602 328.2h3v15h-3zM605 331.2h3v15h-3zM608 334.2h3v15h-3zM611 337.2h3v15h-3zM614 340.2h3v18h-3zM617 343.2h3v18h-3zM620 349.2h3v15h-3zM623 352.2h3v15h-3zM626 355.2h3v15h-3zM629 358.2h3v15h-3zM632 361.2h3v18h-3zM635 364.2h3v18h-3zM638 370.2h3v15h-3zM641 373.2h3v15h-3zM644 376.2h3v15h-3zM647 379.2h3v18h-3zM650 382.2h3v18h-3zM653 388.2h3v15h-3zM656 391.2h3v18h-3zM659 394.2h3v18h-3zM662 400.2h3v18h-3zM665 403.2h3v15h-3zM668 409.2h3v12h-3zM671 409.2h3v15h-3zM674 412.2h3v15h-3zM677 415.2h3v15h-3zM680 418.2h3v15h-3zM683 421.2h3v12h-3zM686 424.2h3v12h-3zM689 424.2h3v15h-3zM692 427.2h3v15h-3zM695 430.2h3v12h-3zM698 433.2h3v12h-3zM701 433.2h3v12h-3zM704 436.2h3v12h-3zM707 436.2h3v15h-3zM710 439.2h3v12h-3zM713 442.2h3v12h-3zM716 442.2h3v12h-3zM719 445.2h3v9h-3zM722 445.2h3v12h-3zM725 445.2h3v12h-3zM728 448.2h3v9h-3zM731 448.2h3v12h-3zM734 448.2h3v12h-3zM737 451.2h3v12h-3zM740 451.2h3v12h-3zM743 454.2h3v9h-3zM746 454.2h3v12h-3zM749 454.2h3v12h-3zM752 457.2h3v12h-3zM755 457.2h3v12h-3zM758 460.2h3v9h-3zM761 460.2h3v9h-3zM764 460.2h3v12h-3zM767 460.2h3v12h-3zM770 463.2h3v9h-3zM773 463.2h3v9h-3zM776 463.2h3v9h-3zM779 463.2h3v9h-3zM782 463.2h3v9h-3zM785 463.2h3v9h-3zM788 463.2h3v9h-3zM791 463.2h3v9h-3zM794 463.2h3v9h-3zM797 460.2h3v12h-3zM800 460.2h3v12h-3zM803 460.2h3v12h-3zM806 460.2h3v12h-3zM809 457.2h3v12h-3zM812 457.2h3v12h-3zM815 457.2h3v9h-3zM818 457.2h3v9h-3zM821 454.2h3v12h-3zM824 454.2h3v12h-3zM827 454.2h3v9h-3zM830 454.2h3v9h-3zM833 451.2h3v12h-3zM836 451.2h3v12h-3zM839 451.2h3v9h-3zM842 451.2h3v9h-3zM845 451.2h3v9h-3zM848 451.2h3v9h-3zM851 448.2h3v12h-3zM854 448.2h3v12h-3zM857 445.2h3v12h-3zM860 442.2h3v15h-3zM863 442.2h3v12h-3zM866 442.2h3v9h-3zM869 442.2h3v9h-3zM872 439.2h3v12h-3zM875 439.2h3v12h-3zM878 436.2h3v12h-3zM881 436.2h3v12h-3zM884 436.2h3v9h-3zM887 433.2h3v12h-3zM890 430.2h3v15h-3zM893 427.2h3v15h-3zM896 424.2h3v15h-3zM899 424.2h3v12h-3zM902 421.2h3v12h-3zM905 418.2h3v15h-3zM908 415.2h3v15h-3zM911 412.2h3v15h-3zM914 412.2h3v12h-3zM917 412.2h3v9h-3zM920 409.2h3v12h-3zM923 409.2h3v12h-3zM926 403.2h3v15h-3zM929 400.2h3v18h-3zM932 397.2h3v15h-3zM935 394.2h3v15h-3zM938 391.2h3v15h-3zM941 388.2h3v15h-3zM944 385.2h3v15h-3zM947 385.2h3v12h-3zM950 379.2h3v15h-3zM953 379.2h3v15h-3zM956 376.2h3v12h-3zM959 376.2h3v12h-3zM962 376.2h3v9h-3zM965 373.2h3v12h-3zM968 370.2h3v15h-3zM971 370.2h3v12h-3zM974 367.2h3v12h-3zM977 364.2h3v15h-3zM980 361.2h3v15h-3zM983 358.2h3v15h-3zM986 355.2h3v15h-3zM989 352.2h3v15h-3zM992 349.2h3v15h-3zM995 349.2h3v12h-3zM998 343.2h3v15h-3zM1001 343.2h3v15h-3zM1004 340.2h3v12h-3zM1007 337.2h3v15h-3zM1010 334.2h3v15h-3zM1013 331.2h3v15h-3zM1016 331.2h3v12h-3zM1019 325.2h3v15h-3zM1022 325.2h3v15h-3zM1025 322.2h3v12h-3zM1028 319.2h3v15h-3zM1031 316.2h3v15h-3zM1034 316.2h3v12h-3zM1037 316.2h3v9h-3zM1040 313.2h3v12h-3zM1043 310.2h3v15h-3zM1046 310.2h3v12h-3zM1049 307.2h3v12h-3zM1052 304.2h3v15h-3zM1055 301.2h3v15h-3zM1058 298.2h3v15h-3zM1061 298.2h3v12h-3zM1064 295.2h3v12h-3zM1067 292.2h3v15h-3zM1070 292.2h3v12h-3zM1073 289.2h3v12h-3zM1076 289.2h3v12h-3zM1079 286.2h3v12h-3zM1082 286.2h3v12h-3zM1085 283.2h3v12h-3zM1088 283.2h3v12h-3zM1091 280.2h3v12h-3zM1094 277.2h3v15h-3zM1097 277.2h3v12h-3zM1100 274.2h3v12h-3zM1103 274.2h3v12h-3zM1106 271.2h3v12h-3zM1109 271.2h3v12h-3zM1112 271.2h3v9h-3zM1115 268.2h3v12h-3zM1118 268.2h3v12h-3zM1121 268.2h3v9h-3zM1124 265.2h3v12h-3zM1127 262.2h3v15h-3zM1130 262.2h3v12h-3zM1133 262.2h3v9h-3zM1136 259.2h3v12h-3zM1139 259.2h3v12h-3zM1142 256.2h3v12h-3zM1145 256.2h3v12h-3zM1148 253.2h3v12h-3zM1151 253.2h3v12h-3zM1154 253.2h3v9h-3zM1157 250.2h3v12h-3zM1160 250.2h3v12h-3zM1163 247.2h3v12h-3zM1166 247.2h3v12h-3zM1169 244.2h3v12h-3zM1172 244.2h3v12h-3zM1175 244.2h3v9h-3zM1178 244.2h3v9h-3zM1181 244.2h3v9h-3zM1184 244.2h3v9h-3zM1187 241.2h3v12h-3zM1190 241.2h3v12h-3zM1193 238.2h3v12h-3zM1196 238.2h3v12h-3zM1199 238.2h3v9h-3zM1202 238.2h3v9h-3zM1205 235.2h3v12h-3zM1208 235.2h3v12h-3zM1211 235.2h3v12h-3zM1214 235.2h3v12h-3zM1217 235.2h3v9h-3zM1220 235.2h3v9h-3zM1223 232.2h3v12h-3zM1226 232.2h3v12h-3zM1229 232.2h3v12h-3zM1232 232.2h3v12h-3zM1235 232.2h3v12h-3zM1238 232.2h3v12h-3zM1241 232.2h3v12h-3zM1244 232.2h3v9h-3zM1247 232.2h3v9h-3zM1250 232.2h3v9h-3zM1253 232.2h3v9h-3zM1256 229.2h3v12h-3zM1259 229.2h3v12h-3zM1262 229.2h3v12h-3zM1265 232.2h3v9h-3zM1268 232.2h3v9h-3zM1271 229.2h3v12h-3zM1274 229.2h3v12h-3zM1277 229.2h3v9h-3zM1280 229.2h3v9h-3zM1283 229.2h3v12h-3zM1286 229.2h3v12h-3zM1289 229.2h3v12h-3zM1292 229.2h3v9h-3zM1295 229.2h3v9h-3zM1298 229.2h3v12h-3zM1301 229.2h3v15h-3zM1304 232.2h3v12h-3zM1307 232.2h3v12h-3zM1310 232.2h3v9h-3zM1313 232.2h3v12h-3zM1316 232.2h3v12h-3zM1319 232.2h3v12h-3zM1322 232.2h3v12h-3zM1325 232.2h3v12h-3zM1328 232.2h3v12h-3zM1331 232.2h3v12h-3zM1334 235.2h3v9h-3zM1337 235.2h3v9h-3zM1340 235.2h3v9h-3zM1343 235.2h3v12h-3zM1346 235.2h3v12h-3zM1349 238.2h3v9h-3zM1352 238.2h3v9h-3zM1355 238.2h3v9h-3zM1358 238.2h3v12h-3zM1361 238.2h3v12h-3zM1364 241.2h3v9h-3zM1367 241.2h3v12h-3zM1370 241.2h3v12h-3zM1373 241.2h3v12h-3zM1376 241.2h3v12h-3zM1379 244.2h3v9h-3zM1382 244.2h3v12h-3zM1385 244.2h3v12h-3zM1388 247.2h3v9h-3zM1391 247.2h3v9h-3zM1394 247.2h3v12h-3zM1397 247.2h3v12h-3zM1400 250.2h3v9h-3zM1403 250.2h3v9h-3zM1406 250.2h3v12h-3zM1409 250.2h3v12h-3zM1412 253.2h3v9h-3zM1415 253.2h3v12h-3zM1418 253.2h3v12h-3zM1421 256.2h3v9h-3zM1424 256.2h3v9h-3zM1427 256.2h3v12h-3zM1430 256.2h3v12h-3zM1433 259.2h3v9h-3zM1436 259.2h3v9h-3zM1439 259.2h3v12h-3zM1442 259.2h3v12h-3zM1445 262.2h3v9h-3zM1448 262.2h3v12h-3zM1451 262.2h3v12h-3zM1454 265.2h3v9h-3zM1457 265.2h3v9h-3zM1460 265.2h3v9h-3zM1463 265.2h3v12h-3zM1466 265.2h3v12h-3zM1469 268.2h3v9h-3zM1472 268.2h3v9h-3zM1475 268.2h3v9h-3zM1478 268.2h3v9h-3zM1481 268.2h3v12h-3zM1484 268.2h3v12h-3zM1487 271.2h3v12h-3zM1490 271.2h3v12h-3zM1493 274.2h3v9h-3zM1496 274.2h3v9h-3zM1499 274.2h3v12h-3zM1502 274.2h3v12h-3zM1505 277.2h3v12h-3zM1508 277.2h3v12h-3zM1511 277.2h3v12h-3zM1514 277.2h3v15h-3zM1517 280.2h3v12h-3zM1520 283.2h3v12h-3zM1523 283.2h3v12h-3zM1526 286.2h3v9h-3zM1529 286.2h3v9h-3zM1532 286.2h3v12h-3zM1535 286.2h3v12h-3zM1538 289.2h3v9h-3zM1541 289.2h3v12h-3zM1544 289.2h3v12h-3zM1547 292.2h3v9h-3zM1550 292.2h3v9h-3zM1553 292.2h3v12h-3zM1556 292.2h3v12h-3zM1559 295.2h3v9h-3zM1562 295.2h3v9h-3zM1565 295.2h3v12h-3zM1568 295.2h3v15h-3zM1571 298.2h3v12h-3zM1574 301.2h3v9h-3zM1577 301.2h3v9h-3zM1580 301.2h3v9h-3zM1583 301.2h3v9h-3zM1586 301.2h3v12h-3zM1589 301.2h3v12h-3zM1592 301.2h3v12h-3zM1595 301.2h3v15h-3zM1598 301.2h3v15h-3zM1601 304.2h3v12h-3zM1604 304.2h3v9h-3zM1607 304.2h3v12h-3zM1610 304.2h3v12h-3zM1613 307.2h3v12h-3zM1616 307.2h3v12h-3zM1619 307.2h3v12h-3zM1622 307.2h3v12h-3zM1625 307.2h3v15h-3zM1628 310.2h3v12h-3zM1631 310.2h3v12h-3zM1634 310.2h3v12h-3zM1637 313.2h3v9h-3zM1640 313.2h3v9h-3zM1643 313.2h3v12h-3zM1646 313.2h3v12h-3zM1649 316.2h3v9h-3zM1652 316.2h3v9h-3zM1655 316.2h3v12h-3zM1658 316.2h3v12h-3zM1661 319.2h3v9h-3zM1664 319.2h3v9h-3zM1667 319.2h3v9h-3zM1670 319.2h3v12h-3zM1673 319.2h3v12h-3zM1676 322.2h3v12h-3zM1679 322.2h3v12h-3zM1682 322.2h3v12h-3zM1685 322.2h3v9h-3zM1688 322.2h3v9h-3zM1691 322.2h3v12h-3zM1694 322.2h3v12h-3zM1697 325.2h3v12h-3zM1700 325.2h3v12h-3zM1703 325.2h3v12h-3zM1706 325.2h3v12h-3zM1709 325.2h3v12h-3zM1712 328.2h3v9h-3zM1715 328.2h3v9h-3zM1718 328.2h3v9h-3zM1721 328.2h3v12h-3zM1724 328.2h3v12h-3zM1727 328.2h3v12h-3zM1730 328.2h3v12h-3zM1733 331.2h3v9h-3zM1736 331.2h3v9h-3zM1739 331.2h3v9h-3zM1742 331.2h3v12h-3zM1745 331.2h3v12h-3zM1748 331.2h3v12h-3zM1751 331.2h3v12h-3zM1754 331.2h3v12h-3zM1757 331.2h3v12h-3zM1760 331.2h3v12h-3zM1763 331.2h3v12h-3zM1766 331.2h3v12h-3zM1769 331.2h3v12h-3zM1772 331.2h3v12h-3zM1775 331.2h3v12h-3zM1778 331.2h3v12h-3zM1781 334.2h3v9h-3zM1784 334.2h3v9h-3zM1787 334.2h3v9h-3zM1790 334.2h3v12h-3zM1793 334.2h3v12h-3zM1796 337.2h3v9h-3zM1799 337.2h3v9h-3zM1802 337.2h3v9h-3zM1805 337.2h3v9h-3zM1808 337.2h3v9h-3zM1811 337.2h3v9h-3zM1814 337.2h3v9h-3zM1817 337.2h3v12h-3zM1820 337.2h3v12h-3zM1823 337.2h3v12h-3zM1826 337.2h3v12h-3zM1829 337.2h3v12h-3zM1832 340.2h3v12h-3zM1835 340.2h3v12h-3zM1838 340.2h3v12h-3zM1841 340.2h3v12h-3zM1844 340.2h3v12h-3zM1847 340.2h3v12h-3zM1850 340.2h3v12h-3zM1853 340.2h3v12h-3zM1856 340.2h3v12h-3zM1859 343.2h3v9h-3zM1862 343.2h3v9h-3zM1865 340.2h3v12h-3zM1868 340.2h3v15h-3zM1871 340.2h3v15h-3zM1874 343.2h3v12h-3zM1877 343.2h3v12h-3zM1880 343.2h3v12h-3zM1883 343.2h3v12h-3zM1886 343.2h3v12h-3zM1889 343.2h3v12h-3zM1892 343.2h3v12h-3zM1895 343.2h3v12h-3zM1898 346.2h3v9h-3zM1901 346.2h3v9h-3zM1904 346.2h3v9h-3zM1907 346.2h3v9h-3zM1910 346.2h3v12h-3zM1913 346.2h3v12h-3zM1916 346.2h3v12h-3zM1919 346.2h3v9h-3zM1922 346.2h3v9h-3zM1925 346.2h3v9h-3zM1928 346.2h3v12h-3zM1931 346.2h3v12h-3zM1934 346.2h3v12h-3zM1937 346.2h3v12h-3zM1940 346.2h3v12h-3zM1943 346.2h3v12h-3zM1946 346.2h3v12h-3zM1949 346.2h3v12h-3zM1952 346.2h3v12h-3zM1955 346.2h3v12h-3zM1958 346.2h3v12h-3zM1961 346.2h3v12h-3zM1964 346.2h3v12h-3zM1967 346.2h3v9h-3zM1970 346.2h3v9h-3zM1973 346.2h3v12h-3zM1976 346.2h3v12h-3zM1979 346.2h3v12h-3zM1982 346.2h3v12h-3zM1985 346.2h3v12h-3zM1988 349.2h3v12h-3zM1991 349.2h3v12h-3zM1994 349.2h3v12h-3zM1997 349.2h3v12h-3zM2000 349.2h3v12h-3zM2003 349.2h3v12h-3zM2006 352.2h3v9h-3zM2009 349.2h3v12h-3zM2012 349.2h3v12h-3zM2015 349.2h3v15h-3zM2018 352.2h3v12h-3zM2021 352.2h3v12h-3zM2024 352.2h3v12h-3zM2027 352.2h3v12h-3zM2030 352.2h3v12h-3zM2033 355.2h3v9h-3zM2036 355.2h3v12h-3zM2039 355.2h3v12h-3zM2042 358.2h3v9h-3zM2045 358.2h3v9h-3zM2048 358.2h3v9h-3zM2051 358.2h3v12h-3zM2054 358.2h3v12h-3zM2057 358.2h3v12h-3zM2060 358.2h3v12h-3zM2063 358.2h3v12h-3zM2066 361.2h3v12h-3zM2069 361.2h3v12h-3zM2072 364.2h3v9h-3zM2075 364.2h3v9h-3zM2078 364.2h3v9h-3zM2081 364.2h3v12h-3zM2084 364.2h3v12h-3zM2087 364.2h3v12h-3zM2090 364.2h3v12h-3zM2093 364.2h3v12h-3zM2096 367.2h3v9h-3zM2099 367.2h3v12h-3zM2102 367.2h3v12h-3zM2105 367.2h3v12h-3zM2108 367.2h3v12h-3zM2111 367.2h3v12h-3zM2114 367.2h3v12h-3zM2117 370.2h3v9h-3zM2120 370.2h3v9h-3zM2123 370.2h3v9h-3zM2126 370.2h3v12h-3zM2129 370.2h3v12h-3zM2132 373.2h3v9h-3zM2135 373.2h3v12h-3zM2138 373.2h3v12h-3zM2141 376.2h3v9h-3zM2144 376.2h3v9h-3zM2147 376.2h3v9h-3zM2150 376.2h3v9h-3zM2153 376.2h3v9h-3zM2156 376.2h3v9h-3zM2159 376.2h3v12h-3zM2162 376.2h3v12h-3zM2165 379.2h3v9h-3zM2168 379.2h3v12h-3zM2171 379.2h3v12h-3zM2174 379.2h3v12h-3z"/>
<path fill="#0000ff" d="M227 622.2h3v12h-3zM230 619.2h3v15h-3zM233 616.2h3v15h-3zM236 613.2h3v15h-3zM239 610.2h3v15h-3zM242 607.2h3v15h-3zM245 601.2h3v18h-3zM248 601.2h3v15h-3zM251 592.2h3v18h-3zM254 586.2h3v24h-3zM257 580.2h3v21h-3zM260 574.2h3v21h-3zM263 568.2h3v21h-3zM266 562.2h3v21h-3zM269 553.2h3v24h-3zM272 547.2h3v24h-3zM275 541.2h3v21h-3zM278 532.2h3v24h-3zM281 529.2h3v21h-3zM284 520.2h3v21h-3zM287 514.2h3v24h-3zM290 508.2h3v21h-3zM293 502.2h3v21h-3zM296 493.2h3v24h-3zM299 487.2h3v24h-3zM302 478.2h3v24h-3zM305 469.2h3v27h-3zM308 463.2h3v24h-3zM311 454.2h3v24h-3zM314 445.2h3v27h-3zM317 436.2h3v27h-3zM320 427.2h3v27h-3zM323 421.2h3v24h-3zM326 412.2h3v24h-3zM329 406.2h3v24h-3zM332 400.2h3v21h-3zM335 391.2h3v24h-3zM338 388.2h3v21h-3zM341 382.2h3v18h-3zM344 376.2h3v21h-3zM347 373.2h3v18h-3zM350 364.2h3v21h-3zM353 355.2h3v27h-3zM356 349.2h3v24h-3zM359 340.2h3v24h-3zM362 331.2h3v27h-3zM365 322.2h3v27h-3zM368 316.2h3v24h-3zM371 313.2h3v18h-3zM374 307.2h3v18h-3zM377 301.2h3v21h-3zM380 298.2h3v18h-3zM383 292.2h3v18h-3zM386 286.2h3v21h-3zM389 283.2h3v18h-3zM392 277.2h3v18h-3zM395 274.2h3v18h-3zM398 268.2h3v18h-3zM401 265.2h3v18h-3zM404 262.2h3v15h-3zM407 259.2h3v15h-3zM410 253.2h3v18h-3zM413 250.2h3v18h-3zM416 247.2h3v15h-3zM419 244.2h3v15h-3zM422 241.2h3v15h-3zM425 238.2h3v15h-3zM428 238.2h3v12h-3zM431 235.2h3v12h-3zM434 232.2h3v15h-3zM437 232.2h3v12h-3zM440 229.2h3v12h-3zM443 229.2h3v12h-3zM446 229.2h3v9h-3zM449 226.2h3v12h-3zM452 226.2h3v12h-3zM455 226.2h3v9h-3zM458 226.2h3v9h-3zM461 226.2h3v12h-3zM464 226.2h3v12h-3zM467 229.2h3v12h-3zM470 229.2h3v12h-3zM473 232.2h3v9h-3zM476 232.2h3v12h-3zM479 232.2h3v12h-3zM482 235.2h3v9h-3zM485 235.2h3v12h-3zM488 235.2h3v15h-3zM491 238.2h3v15h-3zM494 241.2h3v15h-3zM497 244.2h3v12h-3zM500 247.2h3v12h-3zM503 247.2h3v15h-3zM506 250.2h3v15h-3zM509 253.2h3v15h-3zM512 256.2h3v15h-3zM515 259.2h3v15h-3zM518 262.2h3v15h-3zM521 265.2h3v15h-3zM524 268.2h3v15h-3zM527 271.2h3v15h-3zM530 274.2h3v15h-3zM533 277.2h3v18h-3zM536 280.2h3v18h-3zM539 286.2h3v15h-3zM542 289.2h3v15h-3zM545 292.2h3v15h-3zM548 295.2h3v15h-3zM551 298.2h3v18h-3zM554 301.2h3v18h-3zM557 307.2h3v15h-3zM560 310.2h3v15h-3zM563 313.2h3v15h-3zM566 316.2h3v18h-3zM569 319.2h3v18h-3zM572 325.2h3v15h-3zM575 328.2h3v18h-3zM578 331.2h3v18h-3zM581 337.2h3v15h-3zM584 340.2h3v15h-3zM587 343.2h3v15h-3zM590 346.2h3v18h-3zM593 349.2h3v18h-3zM596 355.2h3v15h-3zM599 358.2h3v15h-3zM602 361.2h3v15h-3zM605 364.2h3v15h-3zM608 367.2h3v15h-3zM611 370.2h3v18h-3zM614 373.2h3v18h-3zM617 379.2h3v15h-3zM620 382.2h3v15h-3zM623 385.2h3v15h-3zM626 388.2h3v15h-3zM629 391.2h3v15h-3zM632 394.2h3v15h-3zM635 397.2h3v15h-3zM638 400.2h3v18h-3zM641 403.2h3v18h-3zM644 409.2h3v15h-3zM647 412.2h3v15h-3zM650 415.2h3v15h-3zM653 418.2h3v15h-3zM656 421.2h3v15h-3zM659 424.2h3v15h-3zM662 427.2h3v12h-3zM665 430.2h3v12h-3zM668 430.2h3v15h-3zM671 433.2h3v15h-3zM674 436.2h3v12h-3zM677 439.2h3v12h-3zM680 439.2h3v15h-3zM683 442.2h3v15h-3zM686 445.2h3v12h-3zM689 448.2h3v12h-3zM692 448.2h3v15h-3zM695 451.2h3v12h-3zM698 454.2h3v12h-3zM701 454.2h3v12h-3zM704 457.2h3v12h-3zM707 457.2h3v15h-3zM710 460.2h3v12h-3zM713 463.2h3v12h-3zM716 463.2h3v12h-3zM719 466.2h3v9h-3zM722 466.2h3v12h-3zM725 466.2h3v12h-3zM728 469.2h3v9h-3zM731 469.2h3v9h-3zM734 469.2h3v9h-3zM737 469.2h3v12h-3zM740 469.2h3v12h-3zM743 472.2h3v9h-3zM746 472.2h3v9h-3zM749 472.2h3v9h-3zM752 472.2h3v9h-3zM755 472.2h3v12h-3zM758 472.2h3v12h-3zM761 475.2h3v9h-3zM764 475.2h3v9h-3zM767 475.2h3v9h-3zM770 472.2h3v12h-3zM773 472.2h3v12h-3zM776 472.2h3v12h-3zM779 472.2h3v12h-3zM782 472.2h3v9h-3zM785 472.2h3v9h-3zM788 472.2h3v9h-3zM791 469.2h3v12h-3zM794 469.2h3v12h-3zM797 469.2h3v9h-3zM800 469.2h3v9h-3zM803 466.2h3v12h-3zM806 466.2h3v12h-3zM809 466.2h3v9h-3zM812 466.2h3v9h-3zM815 463.2h3v12h-3zM818 463.2h3v12h-3zM821 460.2h3v12h-3zM824 460.2h3v12h-3zM827 460.2h3v9h-3zM830 460.2h3v9h-3zM833 457.2h3v12h-3zM836 457.2h3v12h-3zM839 454.2h3v12h-3zM842 454.2h3v12h-3zM845 451.2h3v12h-3zM848 451.2h3v12h-3zM851 448.2h3v12h-3zM854 445.2h3v15h-3zM857 442.2h3v15h-3zM860 442.2h3v12h-3zM863 439.2h3v12h-3zM866 439.2h3v12h-3zM869 439.2h3v9h-3zM872 439.2h3v9h-3zM875 436.2h3v12h-3zM878 436.2h3v12h-3zM881 433.2h3v12h-3zM884 430.2h3v15h-3zM887 430.2h3v12h-3zM890 427.2h3v12h-3zM893 424.2h3v15h-3zM896 421.2h3v15h-3zM899 421.2h3v12h-3zM902 415.2h3v15h-3zM905 415.2h3v15h-3zM908 409.2h3v15h-3zM911 409.2h3v15h-3zM914 409.2h3v9h-3zM917 406.2h3v12h-3zM920 406.2h3v12h-3zM923 400.2h3v15h-3zM926 397.2h3v18h-3zM929 394.2h3v15h-3zM932 388.2h3v18h-3zM935 385.2h3v18h-3zM938 382.2h3v15h-3zM941 382.2h3v12h-3zM944 379.2h3v12h-3zM947 376.2h3v15h-3zM950 373.2h3v15h-3zM953 370.2h3v15h-3zM956 370.2h3v12h-3zM959 367.2h3v12h-3zM962 367.2h3v12h-3zM965 364.2h3v12h-3zM968 364.2h3v12h-3zM971 361.2h3v12h-3zM974 358.2h3v15h-3zM977 355.2h3v15h-3zM980 352.2h3v15h-3zM983 349.2h3v15h-3zM986 346.2h3v15h-3zM989 343.2h3v15h-3zM992 343.2h3v12h-3zM995 340.2h3v12h-3zM998 337.2h3v15h-3zM1001 334.2h3v15h-3zM1004 331.2h3v15h-3zM1007 328.2h3v15h-3zM1010 325.2h3v15h-3zM1013 322.2h3v15h-3zM1016 322.2h3v12h-3zM1019 319.2h3v12h-3zM1022 316.2h3v15h-3zM1025 313.2h3v15h-3zM1028 310.2h3v15h-3zM1031 310.2h3v12h-3zM1034 307.2h3v12h-3zM1037 307.2h3v12h-3zM1040 304.2h3v12h-3zM1043 301.2h3v15h-3zM1046 301.2h3v12h-3zM1049 298.2h3v12h-3zM1052 295.2h3v15h-3zM1055 295.2h3v12h-3zM1058 292.2h3v12h-3zM1061 289.2h3v15h-3zM1064 286.2h3v15h-3zM1067 283.2h3v15h-3zM1070 283.2h3v12h-3zM1073 283.2h3v9h-3zM1076 280.2h3v12h-3zM1079 280.2h3v12h-3zM1082 280.2h3v9h-3zM1085 277.2h3v12h-3zM1088 274.2h3v15h-3zM1091 274.2h3v12h-3zM1094 271.2h3v12h-3zM1097 271.2h3v12h-3zM1100 271.2h3v9h-3zM1103 268.2h3v12h-3zM1106 265.2h3v15h-3zM1109 265.2h3v12h-3zM1112 262.2h3v12h-3zM1115 262.2h3v12h-3zM1118 262.2h3v9h-3zM1121 259.2h3v12h-3zM1124 259.2h3v12h-3zM1127 256.2h3v12h-3zM1130 256.2h3v12h-3zM1133 253.2h3v12h-3zM1136 253.2h3v12h-3zM1139 247.2h3v15h-3zM1142 247.2h3v15h-3zM1145 247.2h3v9h-3zM1148 244.2h3v12h-3zM1151 244.2h3v12h-3zM1154 244.2h3v12h-3zM1157 244.2h3v12h-3zM1160 244.2h3v9h-3zM1163 244.2h3v9h-3zM1166 241.2h3v12h-3zM1169 241.2h3v12h-3zM1172 241.2h3v9h-3zM1175 238.2h3v12h-3zM1178 238.2h3v12h-3zM1181 238.2h3v9h-3zM1184 238.2h3v9h-3zM1187 235.2h3v12h-3zM1190 235.2h3v12h-3zM1193 235.2h3v12h-3zM1196 235.2h3v12h-3zM1199 235.2h3v12h-3zM1202 235.2h3v9h-3zM1205 235.2h3v9h-3zM1208 235.2h3v9h-3zM1211 235.2h3v9h-3zM1214 235.2h3v9h-3zM1217 235.2h3v9h-3zM1220 235.2h3v9h-3zM1223 232.2h3v12h-3zM1226 232.2h3v12h-3zM1229 232.2h3v12h-3zM1232 232.2h3v12h-3zM1235 232.2h3v9h-3zM1238 232.2h3v9h-3zM1241 232.2h3v9h-3zM1244 232.2h3v9h-3zM1247 232.2h3v9h-3zM1250 232.2h3v9h-3zM1253 232.2h3v9h-3zM1256 232.2h3v9h-3zM1259 232.2h3v9h-3zM1262 232.2h3v9h-3zM1265 232.2h3v9h-3zM1268 232.2h3v9h-3zM1271 229.2h3v12h-3zM1274 229.2h3v12h-3zM1277 229.2h3v12h-3zM1280 232.2h3v9h-3zM1283 232.2h3v9h-3zM1286 232.2h3v9h-3zM1289 232.2h3v12h-3zM1292 232.2h3v12h-3zM1295 235.2h3v9h-3zM1298 235.2h3v9h-3zM1301 235.2h3v9h-3zM1304 235.2h3v9h-3zM1307 235.2h3v12h-3zM1310 235.2h3v12h-3zM1313 235.2h3v12h-3zM1316 235.2h3v12h-3zM1319 238.2h3v9h-3zM1322 238.2h3v9h-3zM1325 238.2h3v9h-3zM1328 238.2h3v9h-3zM1331 238.2h3v9h-3zM1334 238.2h3v9h-3zM1337 238.2h3v12h-3zM1340 238.2h3v12h-3zM1343 241.2h3v9h-3zM1346 241.2h3v9h-3zM1349 241.2h3v12h-3zM1352 241.2h3v12h-3zM1355 241.2h3v12h-3zM1358 241.2h3v12h-3zM1361 241.2h3v12h-3zM1364 241.2h3v15h-3zM1367 244.2h3v12h-3zM1370 247.2h3v9h-3zM1373 247.2h3v12h-3zM1376 247.2h3v12h-3zM1379 250.2h3v9h-3zM1382 250.2h3v9h-3zM1385 250.2h3v12h-3zM1388 250.2h3v12h-3zM1391 253.2h3v9h-3zM1394 253.2h3v12h-3zM1397 253.2h3v12h-3zM1400 256.2h3v12h-3zM1403 256.2h3v12h-3zM1406 259.2h3v9h-3zM1409 259.2h3v9h-3zM1412 259.2h3v12h-3zM1415 259.2h3v12h-3zM1418 262.2h3v9h-3zM1421 262.2h3v9h-3zM1424 262.2h3v9h-3zM1427 262.2h3v9h-3zM1430 262.2h3v12h-3zM1433 262.2h3v15h-3zM1436 265.2h3v12h-3zM1439 268.2h3v9h-3zM1442 268.2h3v9h-3zM1445 268.2h3v9h-3zM1448 268.2h3v12h-3zM1451 268.2h3v12h-3zM1454 271.2h3v9h-3zM1457 271.2h3v9h-3zM1460 271.2h3v12h-3zM1463 271.2h3v12h-3zM1466 274.2h3v9h-3zM1469 274.2h3v9h-3zM1472 274.2h3v12h-3zM1475 274.2h3v12h-3zM1478 277.2h3v9h-3zM1481 277.2h3v9h-3zM1484 277.2h3v12h-3zM1487 277.2h3v12h-3zM1490 280.2h3v12h-3zM1493 280.2h3v12h-3zM1496 280.2h3v12h-3zM1499 280.2h3v12h-3zM1502 283.2h3v9h-3zM1505 283.2h3v9h-3zM1508 283.2h3v12h-3zM1511 283.2h3v12h-3zM1514 286.2h3v12h-3zM1517 286.2h3v12h-3zM1520 289.2h3v12h-3zM1523 289.2h3v12h-3zM1526 292.2h3v9h-3zM1529 292.2h3v12h-3zM1532 292.2h3v12h-3zM1535 295.2h3v9h-3zM1538 295.2h3v9h-3zM1541 295.2h3v12h-3zM1544 295.2h3v12h-3zM1547 298.2h3v9h-3zM1550 298.2h3v9h-3zM1553 298.2h3v12h-3zM1556 298.2h3v12h-3zM1559 301.2h3v9h-3zM1562 301.2h3v9h-3zM1565 301.2h3v12h-3zM1568 301.2h3v12h-3zM1571 304.2h3v9h-3zM1574 304.2h3v12h-3zM1577 304.2h3v12h-3zM1580 307.2h3v9h-3zM1583 307.2h3v12h-3zM1586 307.2h3v12h-3zM1589 310.2h3v9h-3zM1592 310.2h3v12h-3zM1595 310.2h3v12h-3zM1598 310.2h3v12h-3zM1601 310.2h3v9h-3zM1604 310.2h3v12h-3zM1607 310.2h3v12h-3zM1610 313.2h3v9h-3zM1613 313.2h3v9h-3zM1616 313.2h3v9h-3zM1619 313.2h3v9h-3zM1622 313.2h3v12h-3zM1625 313.2h3v12h-3zM1628 316.2h3v9h-3zM1631 316.2h3v9h-3zM1634 316.2h3v9h-3zM1637 316.2h3v9h-3zM1640 316.2h3v12h-3zM1643 316.2h3v12h-3zM1646 319.2h3v9h-3zM1649 319.2h3v9h-3zM1652 319.2h3v12h-3zM1655 319.2h3v12h-3zM1658 322.2h3v9h-3zM1661 322.2h3v12h-3zM1664 322.2h3v12h-3zM1667 322.2h3v12h-3zM1670 322.2h3v12h-3zM1673 322.2h3v12h-3zM1676 322.2h3v12h-3zM1679 325.2h3v9h-3zM1682 325.2h3v9h-3zM1685 325.2h3v9h-3zM1688 325.2h3v9h-3zM1691 325.2h3v12h-3zM1694 325.2h3v12h-3zM1697 325.2h3v12h-3zM1700 325.2h3v12h-3zM1703 325.2h3v12h-3zM1706 328.2h3v9h-3zM1709 328.2h3v9h-3zM1712 328.2h3v9h-3zM1715 328.2h3v9h-3zM1718 328.2h3v12h-3zM1721 328.2h3v12h-3zM1724 331.2h3v12h-3zM1727 331.2h3v12h-3zM1730 334.2h3v9h-3zM1733 331.2h3v12h-3zM1736 331.2h3v12h-3zM1739 331.2h3v12h-3zM1742 334.2h3v9h-3zM1745 334.2h3v9h-3zM1748 334.2h3v12h-3zM1751 334.2h3v12h-3zM1754 334.2h3v12h-3zM1757 334.2h3v9h-3zM1760 334.2h3v9h-3zM1763 331.2h3v12h-3zM1766 331.2h3v12h-3zM1769 331.2h3v12h-3zM1772 331.2h3v12h-3zM1775 331.2h3v12h-3zM1778 331.2h3v12h-3zM1781 334.2h3v9h-3zM1784 334.2h3v9h-3zM1787 334.2h3v12h-3zM1790 334.2h3v12h-3zM1793 334.2h3v12h-3zM1796 334.2h3v15h-3zM1799 334.2h3v15h-3zM1802 337.2h3v12h-3zM1805 337.2h3v9h-3zM1808 337.2h3v12h-3zM1811 337.2h3v12h-3zM1814 337.2h3v12h-3zM1817 337.2h3v12h-3zM1820 337.2h3v12h-3zM1823 337.2h3v15h-3zM1826 340.2h3v12h-3zM1829 343.2h3v9h-3zM1832 343.2h3v9h-3zM1835 343.2h3v9h-3zM1838 340.2h3v12h-3zM1841 340.2h3v12h-3zM1844 340.2h3v9h-3zM1847 340.2h3v9h-3zM1850 340.2h3v12h-3zM1853 340.2h3v12h-3zM1856 343.2h3v9h-3zM1859 340.2h3v12h-3zM1862 340.2h3v12h-3zM1865 340.2h3v12h-3zM1868 340.2h3v15h-3zM1871 343.2h3v12h-3zM1874 343.2h3v12h-3zM1877 343.2h3v9h-3zM1880 343.2h3v12h-3zM1883 343.2h3v12h-3zM1886 343.2h3v12h-3zM1889 343.2h3v12h-3zM1892 343.2h3v9h-3zM1895 343.2h3v12h-3zM1898 343.2h3v12h-3zM1901 343.2h3v12h-3zM1904 343.2h3v12h-3zM1907 343.2h3v12h-3zM1910 343.2h3v12h-3zM1913 343.2h3v12h-3zM1916 343.2h3v12h-3zM1919 343.2h3v12h-3zM1922 343.2h3v12h-3zM1925 343.2h3v12h-3zM1928 343.2h3v9h-3zM1931 343.2h3v9h-3zM1934 343.2h3v9h-3zM1937 343.2h3v9h-3zM1940 343.2h3v9h-3zM1943 340.2h3v12h-3zM1946 340.2h3v12h-3zM1949 340.2h3v12h-3zM1952 343.2h3v9h-3zM1955 343.2h3v12h-3zM1958 343.2h3v12h-3zM1961 346.2h3v9h-3zM1964 346.2h3v9h-3zM1967 346.2h3v12h-3zM1970 346.2h3v12h-3zM1973 346.2h3v12h-3zM1976 346.2h3v12h-3zM1979 346.2h3v12h-3zM1982 346.2h3v15h-3zM1985 349.2h3v12h-3zM1988 352.2h3v9h-3zM1991 352.2h3v9h-3zM1994 349.2h3v12h-3zM1997 349.2h3v12h-3zM2000 349.2h3v12h-3zM2003 352.2h3v12h-3zM2006 352.2h3v12h-3zM2009 352.2h3v12h-3zM2012 352.2h3v12h-3zM2015 352.2h3v12h-3zM2018 352.2h3v9h-3zM2021 352.2h3v15h-3zM2024 352.2h3v15h-3zM2027 355.2h3v12h-3zM2030 355.2h3v12h-3zM2033 358.2h3v9h-3zM2036 358.2h3v9h-3zM2039 358.2h3v9h-3zM2042 358.2h3v9h-3zM2045 358.2h3v9h-3zM2048 358.2h3v12h-3zM2051 358.2h3v12h-3zM2054 361.2h3v9h-3zM2057 361.2h3v9h-3zM2060 361.2h3v12h-3zM2063 361.2h3v12h-3zM2066 364.2h3v9h-3zM2069 364.2h3v9h-3zM2072 364.2h3v9h-3zM2075 364.2h3v12h-3zM2078 364.2h3v12h-3zM2081 364.2h3v12h-3zM2084 364.2h3v9h-3zM2087 364.2h3v12h-3zM2090 364.2h3v12h-3zM2093 367.2h3v12h-3zM2096 367.2h3v12h-3zM2099 367.2h3v12h-3zM2102 367.2h3v12h-3zM2105 367.2h3v12h-3zM2108 370.2h3v9h-3zM2111 370.2h3v12h-3zM2114 370.2h3v12h-3zM2117 370.2h3v12h-3zM2120 370.2h3v15h-3zM2123 373.2h3v12h-3zM2126 373.2h3v12h-3zM2129 373.2h3v12h-3zM2132 373.2h3v12h-3zM2135 373.2h3v12h-3zM2138 373.2h3v12h-3zM2141 373.2h3v12h-3zM2144 376.2h3v12h-3zM2147 376.2h3v12h-3zM2150 376.2h3v12h-3zM2153 376.2h3v12h-3zM2156 379.2h3v12h-3zM2159 379.2h3v12h-3zM2162 379.2h3v12h-3zM2165 379.2h3v12h-3zM2168 379.2h3v12h-3zM2171 379.2h3v12h-3zM2174 379.2h3v12h-3z"/>
</g>
<text id="y100" transform="translate(158.45 69.80) scale(1 1)" font-size="69.5" text-anchor="middle">100</text>
<text id="y90" transform="translate(168.43 346.50) scale(1 1)" font-size="69.5" text-anchor="middle">90</text>
<text id="y80" transform="translate(166.00 622.50) scale(1 1)" font-size="69.5" text-anchor="middle">80</text>
<text id="y70" transform="translate(166.95 902.50) scale(1 1)" font-size="69.5" text-anchor="middle">70</text>
<text id="y60" transform="translate(167.40 1174.50) scale(1 1)" font-size="69.5" text-anchor="middle">60</text>
<text id="y50" transform="translate(166.10 1449.70) scale(1 1)" font-size="69.5" text-anchor="middle">50</text>
<text id="x400" transform="translate(232.85 1506.60) scale(1 1)" font-size="69.5" text-anchor="middle">400</text>
<text id="x500" transform="translate(717.95 1509.60) scale(1 1)" font-size="69.5" text-anchor="middle">500</text>
<text id="x600" transform="translate(1198.85 1507.60) scale(1 1)" font-size="69.5" text-anchor="middle">600</text>
<text id="x700" transform="translate(1686.85 1508.70) scale(1 1)" font-size="69.5" text-anchor="middle">700</text>
<text id="x800" transform="translate(2171.00 1508.70) scale(1 1)" font-size="69.5" text-anchor="middle">800</text>
<text id="xt" x="1204.20" y="1601.80" font-size="92" letter-spacing="0.8" text-anchor="middle">Wavelength (nm)</text>
<text id="ytl" transform="translate(87.20 721.60) rotate(-90)" font-size="92" letter-spacing="0.2" text-anchor="middle">Transmittance (%)</text>
<rect x="1575.1" y="842.25" width="552.2" height="537.35" fill="#fff" stroke="#000" stroke-width="3.1"/>
<rect x="1609.2" y="929.05" width="179" height="8.9" fill="#ff0000" shape-rendering="crispEdges"/>
<text x="1823.2" y="953.9" font-size="77">0 % O<tspan font-size="60" dy="6.2">2</tspan></text>
<rect x="1609.2" y="1047.15" width="179" height="8.9" fill="#00ff00" shape-rendering="crispEdges"/>
<text x="1823.2" y="1073.9" font-size="77">25 % O<tspan font-size="60" dy="6.2">2</tspan></text>
<rect x="1609.2" y="1162.55" width="179" height="8.9" fill="#ffff00" shape-rendering="crispEdges"/>
<text x="1823.2" y="1191" font-size="77">50 % O<tspan font-size="60" dy="6.2">2</tspan></text>
<rect x="1609.2" y="1280.95" width="179" height="8.9" fill="#0000ff" shape-rendering="crispEdges"/>
<text x="1824.5" y="1304.9" font-size="77">75 % O<tspan font-size="60" dy="6.2">2</tspan></text>
</svg></body></html>
